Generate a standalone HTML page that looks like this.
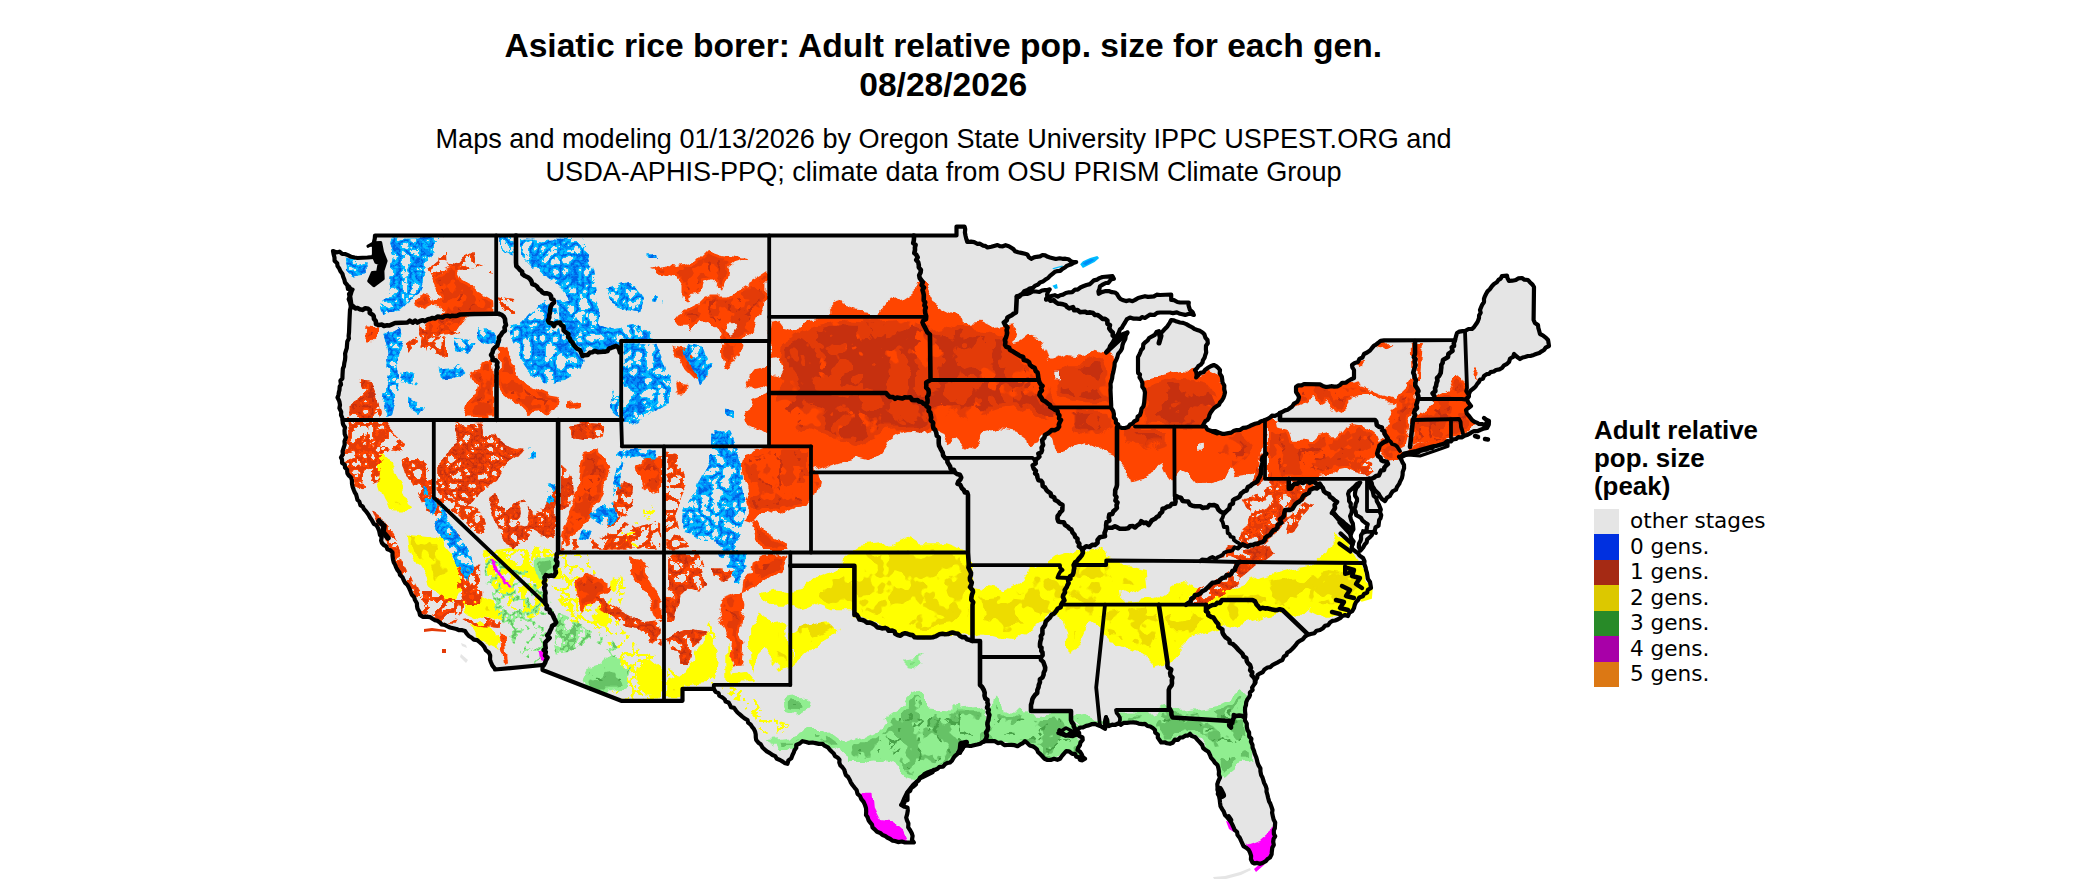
<!DOCTYPE html><html><head><meta charset="utf-8"><title>Asiatic rice borer</title><style>
html,body{margin:0;padding:0;background:#fff}body{width:2100px;height:892px;overflow:hidden;position:relative;font-family:"Liberation Sans",sans-serif;color:#000}
.t{position:absolute;white-space:nowrap;text-align:center}
#title{left:0;width:1886.5px;top:25.5px;font-weight:bold;font-size:33.59px;line-height:39.5px}
#sub{left:0;width:1887.1px;top:123.2px;font-size:27.09px;line-height:32.7px}
#lt{left:1594px;top:416px;font-weight:bold;font-size:25.9px;line-height:28px;text-align:left}
.sw{position:absolute;left:1594px;width:25px;height:25.6px}
.ll{position:absolute;left:1630px;font-family:"DejaVu Sans",sans-serif;font-size:21.6px;line-height:26px;white-space:nowrap}
svg{position:absolute;left:0;top:0}
</style></head><body>
<div class="t" id="title">Asiatic rice borer: Adult relative pop. size for each gen.<br>08/28/2026</div>
<div class="t" id="sub">Maps and modeling 01/13/2026 by Oregon State University IPPC USPEST.ORG and<br>USDA-APHIS-PPQ; climate data from OSU PRISM Climate Group</div>
<div class="t" id="lt">Adult relative<br>pop. size<br>(peak)</div>
<div class="sw" style="top:509px;height:25px;background:#e5e5e5"></div><div class="ll" style="top:508.45px">other stages</div>
<div class="sw" style="top:534px;height:26px;background:#0030e0"></div><div class="ll" style="top:533.87px">0 gens.</div>
<div class="sw" style="top:560px;height:25px;background:#a52a14"></div><div class="ll" style="top:559.29px">1 gens.</div>
<div class="sw" style="top:585px;height:26px;background:#dcc800"></div><div class="ll" style="top:584.71px">2 gens.</div>
<div class="sw" style="top:611px;height:25px;background:#288a28"></div><div class="ll" style="top:610.13px">3 gens.</div>
<div class="sw" style="top:636px;height:26px;background:#a800a8"></div><div class="ll" style="top:635.55px">4 gens.</div>
<div class="sw" style="top:662px;height:25px;background:#dc7814"></div><div class="ll" style="top:660.97px">5 gens.</div>
<svg width="2100" height="892" viewBox="0 0 2100 892">
<defs><filter id="fRB" x="0" y="0" width="2100" height="892" filterUnits="userSpaceOnUse" color-interpolation-filters="sRGB"><feTurbulence type="fractalNoise" baseFrequency="0.045" numOctaves="3" seed="2" result="t"/><feDisplacementMap in="SourceGraphic" in2="t" scale="16" xChannelSelector="R" yChannelSelector="G" result="a0"/><feMerge><feMergeNode in="a0"/></feMerge></filter><filter id="fRD" x="0" y="0" width="2100" height="892" filterUnits="userSpaceOnUse" color-interpolation-filters="sRGB"><feTurbulence type="fractalNoise" baseFrequency="0.04" numOctaves="3" seed="4" result="t"/><feDisplacementMap in="SourceGraphic" in2="t" scale="22" xChannelSelector="R" yChannelSelector="G" result="a0"/><feColorMatrix in="a0" type="matrix" values="0 0 0 0 0.890 0 0 0 0 0.231 0 0 0 0 0.031 0 0 0 1 0" result="c0"/><feTurbulence type="fractalNoise" baseFrequency="0.03" numOctaves="3" seed="21" result="n0"/><feColorMatrix in="n0" type="matrix" values="0 0 0 0 0 0 0 0 0 0 0 0 0 0 0 30 0 0 0 -10.50" result="m0"/><feComposite in="c0" in2="m0" operator="in" result="o0"/><feMorphology in="a0" operator="erode" radius="3" result="e1"/><feColorMatrix in="e1" type="matrix" values="0 0 0 0 0.776 0 0 0 0 0.188 0 0 0 0 0.059 0 0 0 1 0" result="c1"/><feTurbulence type="turbulence" baseFrequency="0.035" numOctaves="3" seed="22" result="n1"/><feColorMatrix in="n1" type="matrix" values="0 0 0 0 0 0 0 0 0 0 0 0 0 0 0 -30 0 0 0 9.30" result="m1"/><feComposite in="c1" in2="m1" operator="in" result="o1"/><feMerge><feMergeNode in="o0"/><feMergeNode in="o1"/></feMerge></filter><filter id="fR" x="0" y="0" width="2100" height="892" filterUnits="userSpaceOnUse" color-interpolation-filters="sRGB"><feTurbulence type="fractalNoise" baseFrequency="0.07" numOctaves="3" seed="6" result="t"/><feDisplacementMap in="SourceGraphic" in2="t" scale="12" xChannelSelector="R" yChannelSelector="G" result="a0"/><feMorphology in="a0" operator="erode" radius="1.5" result="e0"/><feColorMatrix in="e0" type="matrix" values="0 0 0 0 0.890 0 0 0 0 0.231 0 0 0 0 0.031 0 0 0 1 0" result="c0"/><feTurbulence type="fractalNoise" baseFrequency="0.06" numOctaves="3" seed="31" result="n0"/><feColorMatrix in="n0" type="matrix" values="0 0 0 0 0 0 0 0 0 0 0 0 0 0 0 30 0 0 0 -14.10" result="m0"/><feComposite in="c0" in2="m0" operator="in" result="o0"/><feMorphology in="a0" operator="erode" radius="4" result="e1"/><feColorMatrix in="e1" type="matrix" values="0 0 0 0 0.776 0 0 0 0 0.188 0 0 0 0 0.059 0 0 0 1 0" result="c1"/><feTurbulence type="turbulence" baseFrequency="0.05" numOctaves="3" seed="32" result="n1"/><feColorMatrix in="n1" type="matrix" values="0 0 0 0 0 0 0 0 0 0 0 0 0 0 0 -30 0 0 0 3.90" result="m1"/><feComposite in="c1" in2="m1" operator="in" result="o1"/><feMerge><feMergeNode in="a0"/><feMergeNode in="o0"/><feMergeNode in="o1"/></feMerge></filter><filter id="fY" x="0" y="0" width="2100" height="892" filterUnits="userSpaceOnUse" color-interpolation-filters="sRGB"><feTurbulence type="fractalNoise" baseFrequency="0.05" numOctaves="3" seed="8" result="t"/><feDisplacementMap in="SourceGraphic" in2="t" scale="16" xChannelSelector="R" yChannelSelector="G" result="a0"/><feMorphology in="a0" operator="erode" radius="6" result="e0"/><feColorMatrix in="e0" type="matrix" values="0 0 0 0 0.929 0 0 0 0 0.863 0 0 0 0 0.000 0 0 0 1 0" result="c0"/><feTurbulence type="fractalNoise" baseFrequency="0.04" numOctaves="3" seed="41" result="n0"/><feColorMatrix in="n0" type="matrix" values="0 0 0 0 0 0 0 0 0 0 0 0 0 0 0 30 0 0 0 -18.60" result="m0"/><feComposite in="c0" in2="m0" operator="in" result="o0"/><feMerge><feMergeNode in="a0"/><feMergeNode in="o0"/></feMerge></filter><filter id="fYD" x="0" y="0" width="2100" height="892" filterUnits="userSpaceOnUse" color-interpolation-filters="sRGB"><feTurbulence type="fractalNoise" baseFrequency="0.05" numOctaves="3" seed="18" result="t"/><feDisplacementMap in="SourceGraphic" in2="t" scale="16" xChannelSelector="R" yChannelSelector="G" result="a0"/><feColorMatrix in="a0" type="matrix" values="0 0 0 0 0.929 0 0 0 0 0.863 0 0 0 0 0.000 0 0 0 1 0" result="c0"/><feTurbulence type="fractalNoise" baseFrequency="0.045" numOctaves="3" seed="42" result="n0"/><feColorMatrix in="n0" type="matrix" values="0 0 0 0 0 0 0 0 0 0 0 0 0 0 0 30 0 0 0 -14.70" result="m0"/><feComposite in="c0" in2="m0" operator="in" result="o0"/><feMerge><feMergeNode in="o0"/></feMerge></filter><filter id="fG" x="0" y="0" width="2100" height="892" filterUnits="userSpaceOnUse" color-interpolation-filters="sRGB"><feTurbulence type="fractalNoise" baseFrequency="0.06" numOctaves="3" seed="9" result="t"/><feDisplacementMap in="SourceGraphic" in2="t" scale="16" xChannelSelector="R" yChannelSelector="G" result="a0"/><feMorphology in="a0" operator="erode" radius="3" result="e0"/><feColorMatrix in="e0" type="matrix" values="0 0 0 0 0.400 0 0 0 0 0.761 0 0 0 0 0.400 0 0 0 1 0" result="c0"/><feTurbulence type="fractalNoise" baseFrequency="0.05" numOctaves="3" seed="51" result="n0"/><feColorMatrix in="n0" type="matrix" values="0 0 0 0 0 0 0 0 0 0 0 0 0 0 0 30 0 0 0 -15.00" result="m0"/><feComposite in="c0" in2="m0" operator="in" result="o0"/><feMorphology in="a0" operator="erode" radius="6" result="e1"/><feColorMatrix in="e1" type="matrix" values="0 0 0 0 0.282 0 0 0 0 0.635 0 0 0 0 0.282 0 0 0 1 0" result="c1"/><feTurbulence type="turbulence" baseFrequency="0.05" numOctaves="3" seed="52" result="n1"/><feColorMatrix in="n1" type="matrix" values="0 0 0 0 0 0 0 0 0 0 0 0 0 0 0 -30 0 0 0 3.90" result="m1"/><feComposite in="c1" in2="m1" operator="in" result="o1"/><feMerge><feMergeNode in="a0"/><feMergeNode in="o0"/><feMergeNode in="o1"/></feMerge></filter><filter id="fH" x="0" y="0" width="2100" height="892" filterUnits="userSpaceOnUse" color-interpolation-filters="sRGB"><feTurbulence type="fractalNoise" baseFrequency="0.06" numOctaves="3" seed="10" result="t"/><feDisplacementMap in="SourceGraphic" in2="t" scale="10" xChannelSelector="R" yChannelSelector="G" result="a0"/><feMerge><feMergeNode in="a0"/></feMerge></filter><filter id="fM" x="0" y="0" width="2100" height="892" filterUnits="userSpaceOnUse" color-interpolation-filters="sRGB"><feTurbulence type="fractalNoise" baseFrequency="0.08" numOctaves="3" seed="11" result="t"/><feDisplacementMap in="SourceGraphic" in2="t" scale="6" xChannelSelector="R" yChannelSelector="G" result="a0"/><feMerge><feMergeNode in="a0"/></feMerge></filter><filter id="fRs" x="0" y="0" width="2100" height="892" filterUnits="userSpaceOnUse" color-interpolation-filters="sRGB"><feTurbulence type="fractalNoise" baseFrequency="0.05" numOctaves="2" seed="3" result="t"/><feDisplacementMap in="SourceGraphic" in2="t" scale="10" xChannelSelector="R" yChannelSelector="G" result="a0"/><feTurbulence type="turbulence" baseFrequency="0.08" numOctaves="3" seed="5" result="n"/><feColorMatrix in="n" type="matrix" values="0 0 0 0 0 0 0 0 0 0 0 0 0 0 0 -40 0 0 0 13.20" result="m0"/><feComposite in="a0" in2="m0" operator="in" result="o0"/><feColorMatrix in="n" type="matrix" values="0 0 0 0 0 0 0 0 0 0 0 0 0 0 0 -40 0 0 0 8.80" result="m1"/><feColorMatrix in="a0" type="matrix" values="0 0 0 0 0.890 0 0 0 0 0.231 0 0 0 0 0.031 0 0 0 1 0" result="r1"/><feComposite in="r1" in2="m1" operator="in" result="o1"/><feMerge><feMergeNode in="o0"/><feMergeNode in="o1"/></feMerge></filter><filter id="fRm" x="0" y="0" width="2100" height="892" filterUnits="userSpaceOnUse" color-interpolation-filters="sRGB"><feTurbulence type="fractalNoise" baseFrequency="0.05" numOctaves="2" seed="3" result="t"/><feDisplacementMap in="SourceGraphic" in2="t" scale="10" xChannelSelector="R" yChannelSelector="G" result="a0"/><feTurbulence type="turbulence" baseFrequency="0.075" numOctaves="3" seed="25" result="n"/><feColorMatrix in="n" type="matrix" values="0 0 0 0 0 0 0 0 0 0 0 0 0 0 0 -40 0 0 0 17.60" result="m0"/><feComposite in="a0" in2="m0" operator="in" result="o0"/><feColorMatrix in="n" type="matrix" values="0 0 0 0 0 0 0 0 0 0 0 0 0 0 0 -40 0 0 0 12.40" result="m1"/><feColorMatrix in="a0" type="matrix" values="0 0 0 0 0.890 0 0 0 0 0.231 0 0 0 0 0.031 0 0 0 1 0" result="r1"/><feComposite in="r1" in2="m1" operator="in" result="o1"/><feColorMatrix in="n" type="matrix" values="0 0 0 0 0 0 0 0 0 0 0 0 0 0 0 -40 0 0 0 5.60" result="m2"/><feColorMatrix in="a0" type="matrix" values="0 0 0 0 0.776 0 0 0 0 0.188 0 0 0 0 0.059 0 0 0 1 0" result="r2"/><feComposite in="r2" in2="m2" operator="in" result="o2"/><feMerge><feMergeNode in="o0"/><feMergeNode in="o1"/><feMergeNode in="o2"/></feMerge></filter><filter id="fRd" x="0" y="0" width="2100" height="892" filterUnits="userSpaceOnUse" color-interpolation-filters="sRGB"><feTurbulence type="fractalNoise" baseFrequency="0.05" numOctaves="2" seed="3" result="t"/><feDisplacementMap in="SourceGraphic" in2="t" scale="14" xChannelSelector="R" yChannelSelector="G" result="a0"/><feTurbulence type="turbulence" baseFrequency="0.11" numOctaves="3" seed="35" result="n"/><feColorMatrix in="n" type="matrix" values="0 0 0 0 0 0 0 0 0 0 0 0 0 0 0 -40 0 0 0 18.80" result="m0"/><feComposite in="a0" in2="m0" operator="in" result="o0"/><feColorMatrix in="n" type="matrix" values="0 0 0 0 0 0 0 0 0 0 0 0 0 0 0 -40 0 0 0 13.20" result="m1"/><feColorMatrix in="a0" type="matrix" values="0 0 0 0 0.890 0 0 0 0 0.231 0 0 0 0 0.031 0 0 0 1 0" result="r1"/><feComposite in="r1" in2="m1" operator="in" result="o1"/><feColorMatrix in="n" type="matrix" values="0 0 0 0 0 0 0 0 0 0 0 0 0 0 0 -40 0 0 0 6.00" result="m2"/><feColorMatrix in="a0" type="matrix" values="0 0 0 0 0.776 0 0 0 0 0.188 0 0 0 0 0.059 0 0 0 1 0" result="r2"/><feComposite in="r2" in2="m2" operator="in" result="o2"/><feMerge><feMergeNode in="o0"/><feMergeNode in="o1"/><feMergeNode in="o2"/></feMerge></filter><filter id="fB" x="0" y="0" width="2100" height="892" filterUnits="userSpaceOnUse" color-interpolation-filters="sRGB"><feTurbulence type="fractalNoise" baseFrequency="0.05" numOctaves="2" seed="3" result="t"/><feDisplacementMap in="SourceGraphic" in2="t" scale="10" xChannelSelector="R" yChannelSelector="G" result="a0"/><feTurbulence type="turbulence" baseFrequency="0.09" numOctaves="3" seed="12" result="n"/><feColorMatrix in="n" type="matrix" values="0 0 0 0 0 0 0 0 0 0 0 0 0 0 0 -40 0 0 0 16.40" result="m0"/><feComposite in="a0" in2="m0" operator="in" result="o0"/><feColorMatrix in="n" type="matrix" values="0 0 0 0 0 0 0 0 0 0 0 0 0 0 0 -40 0 0 0 10.80" result="m1"/><feColorMatrix in="a0" type="matrix" values="0 0 0 0 0.000 0 0 0 0 0.549 0 0 0 0 0.973 0 0 0 1 0" result="r1"/><feComposite in="r1" in2="m1" operator="in" result="o1"/><feColorMatrix in="n" type="matrix" values="0 0 0 0 0 0 0 0 0 0 0 0 0 0 0 -40 0 0 0 6.00" result="m2"/><feColorMatrix in="a0" type="matrix" values="0 0 0 0 0.000 0 0 0 0 0.392 0 0 0 0 0.902 0 0 0 1 0" result="r2"/><feComposite in="r2" in2="m2" operator="in" result="o2"/><feMerge><feMergeNode in="o0"/><feMergeNode in="o1"/><feMergeNode in="o2"/></feMerge></filter><filter id="fYs" x="0" y="0" width="2100" height="892" filterUnits="userSpaceOnUse" color-interpolation-filters="sRGB"><feTurbulence type="fractalNoise" baseFrequency="0.05" numOctaves="2" seed="3" result="t"/><feDisplacementMap in="SourceGraphic" in2="t" scale="10" xChannelSelector="R" yChannelSelector="G" result="a0"/><feTurbulence type="turbulence" baseFrequency="0.09" numOctaves="3" seed="13" result="n"/><feColorMatrix in="n" type="matrix" values="0 0 0 0 0 0 0 0 0 0 0 0 0 0 0 -40 0 0 0 8.80" result="m0"/><feComposite in="a0" in2="m0" operator="in" result="o0"/><feMerge><feMergeNode in="o0"/></feMerge></filter><filter id="fG2s" x="0" y="0" width="2100" height="892" filterUnits="userSpaceOnUse" color-interpolation-filters="sRGB"><feTurbulence type="fractalNoise" baseFrequency="0.05" numOctaves="2" seed="3" result="t"/><feDisplacementMap in="SourceGraphic" in2="t" scale="10" xChannelSelector="R" yChannelSelector="G" result="a0"/><feTurbulence type="turbulence" baseFrequency="0.08" numOctaves="3" seed="15" result="n"/><feColorMatrix in="n" type="matrix" values="0 0 0 0 0 0 0 0 0 0 0 0 0 0 0 -40 0 0 0 16.00" result="m0"/><feComposite in="a0" in2="m0" operator="in" result="o0"/><feColorMatrix in="n" type="matrix" values="0 0 0 0 0 0 0 0 0 0 0 0 0 0 0 -40 0 0 0 8.80" result="m1"/><feColorMatrix in="a0" type="matrix" values="0 0 0 0 0.400 0 0 0 0 0.761 0 0 0 0 0.400 0 0 0 1 0" result="r1"/><feComposite in="r1" in2="m1" operator="in" result="o1"/><feMerge><feMergeNode in="o0"/><feMergeNode in="o1"/></feMerge></filter><filter id="fY2s" x="0" y="0" width="2100" height="892" filterUnits="userSpaceOnUse" color-interpolation-filters="sRGB"><feTurbulence type="fractalNoise" baseFrequency="0.05" numOctaves="2" seed="3" result="t"/><feDisplacementMap in="SourceGraphic" in2="t" scale="10" xChannelSelector="R" yChannelSelector="G" result="a0"/><feTurbulence type="turbulence" baseFrequency="0.08" numOctaves="3" seed="16" result="n"/><feColorMatrix in="n" type="matrix" values="0 0 0 0 0 0 0 0 0 0 0 0 0 0 0 -40 0 0 0 14.40" result="m0"/><feComposite in="a0" in2="m0" operator="in" result="o0"/><feMerge><feMergeNode in="o0"/></feMerge></filter><filter id="fGs" x="0" y="0" width="2100" height="892" filterUnits="userSpaceOnUse" color-interpolation-filters="sRGB"><feTurbulence type="fractalNoise" baseFrequency="0.05" numOctaves="2" seed="3" result="t"/><feDisplacementMap in="SourceGraphic" in2="t" scale="10" xChannelSelector="R" yChannelSelector="G" result="a0"/><feTurbulence type="turbulence" baseFrequency="0.07" numOctaves="3" seed="14" result="n"/><feColorMatrix in="n" type="matrix" values="0 0 0 0 0 0 0 0 0 0 0 0 0 0 0 -40 0 0 0 8.80" result="m0"/><feComposite in="a0" in2="m0" operator="in" result="o0"/><feColorMatrix in="n" type="matrix" values="0 0 0 0 0 0 0 0 0 0 0 0 0 0 0 -40 0 0 0 4.80" result="m1"/><feColorMatrix in="a0" type="matrix" values="0 0 0 0 0.400 0 0 0 0 0.761 0 0 0 0 0.400 0 0 0 1 0" result="r1"/><feComposite in="r1" in2="m1" operator="in" result="o1"/><feMerge><feMergeNode in="o0"/><feMergeNode in="o1"/></feMerge></filter></defs>
<clipPath id="land"><polygon points="375.0,235.5 956.5,235.5 956.5,226.6 964.6,226.6 965.2,229.3 964.9,232.5 965.6,236.0 966.3,238.9 967.3,242.0 970.9,241.7 974.2,242.2 977.5,243.8 979.9,243.7 982.9,245.6 985.0,245.8 987.5,247.5 991.3,246.8 994.1,246.0 997.5,245.0 999.8,246.2 1002.8,246.3 1005.6,245.2 1008.8,246.2 1011.3,247.8 1013.4,249.1 1015.0,251.2 1018.1,252.3 1021.2,252.9 1025.0,253.8 1027.4,254.5 1028.9,257.3 1031.2,258.8 1034.0,257.4 1036.7,256.8 1040.1,256.4 1042.5,255.0 1045.2,255.4 1047.8,256.8 1050.0,257.5 1052.9,258.2 1055.8,259.0 1059.6,258.3 1062.5,258.8 1065.4,258.7 1068.4,259.2 1070.7,261.2 1073.1,262.0 1076.2,262.0 1073.2,263.1 1070.6,264.6 1067.1,265.7 1065.0,267.5 1062.4,268.9 1060.2,270.9 1056.9,271.2 1054.9,271.8 1052.5,273.8 1050.0,275.8 1048.1,278.0 1045.7,279.3 1042.8,281.6 1040.0,282.5 1038.1,284.5 1034.8,285.9 1033.0,287.7 1029.6,288.6 1027.5,290.0 1024.2,291.3 1022.5,293.6 1019.3,295.3 1016.8,296.5 1019.3,296.8 1021.7,294.5 1024.6,293.9 1027.2,293.9 1030.0,293.0 1032.7,291.4 1036.0,291.5 1039.4,292.0 1042.0,290.5 1044.7,290.1 1046.7,290.2 1049.7,289.4 1048.0,291.9 1047.1,294.4 1047.3,296.8 1046.2,299.3 1049.0,296.7 1052.4,295.7 1054.8,295.2 1057.8,296.6 1060.2,295.2 1063.0,294.6 1065.8,293.0 1069.0,292.3 1072.2,292.1 1075.0,289.7 1077.7,289.6 1080.4,287.5 1083.2,286.3 1086.5,285.0 1090.0,284.1 1091.9,282.2 1093.9,280.4 1097.3,279.6 1099.5,278.1 1102.5,277.0 1112.5,276.2 1113.8,278.8 1111.0,279.5 1108.3,282.8 1105.8,283.0 1103.1,284.4 1100.0,286.2 1099.4,289.2 1098.4,291.3 1098.8,293.8 1101.6,292.1 1105.0,291.2 1108.7,291.0 1111.9,292.2 1115.0,292.5 1116.9,293.9 1118.7,297.0 1120.3,298.8 1122.5,300.0 1126.0,301.1 1129.3,300.3 1132.5,301.2 1135.1,299.9 1138.2,298.0 1141.9,297.0 1145.0,296.2 1148.0,296.9 1151.6,296.6 1153.9,296.4 1156.7,294.7 1160.0,295.0 1171.2,294.5 1171.2,300.0 1174.0,300.2 1177.4,302.0 1180.0,302.5 1188.8,302.5 1188.5,305.1 1189.3,307.8 1190.0,310.0 1192.6,312.1 1193.8,315.0 1190.8,313.9 1188.3,314.0 1185.2,314.9 1182.4,314.3 1180.0,313.8 1176.9,312.4 1172.9,313.1 1170.0,312.5 1160.0,312.5 1157.1,312.9 1154.3,315.0 1150.1,314.6 1147.5,316.2 1144.9,317.9 1142.0,317.1 1140.0,318.8 1136.6,318.6 1133.7,318.7 1130.0,317.5 1126.7,319.4 1125.0,322.5 1123.2,325.3 1121.8,327.9 1119.9,329.4 1118.8,332.5 1117.4,335.1 1115.0,337.5 1113.7,340.7 1112.1,343.3 1110.0,346.0 1109.2,348.9 1107.8,350.4 1106.2,352.5 1108.6,350.1 1110.2,347.7 1112.0,346.0 1114.0,343.7 1115.7,341.9 1117.7,339.4 1120.0,337.0 1122.2,334.5 1124.6,333.5 1127.5,332.5 1125.8,335.5 1125.3,338.9 1123.5,342.1 1122.5,345.0 1122.0,348.4 1120.6,351.0 1118.2,353.8 1117.3,357.2 1116.2,360.0 1114.7,362.7 1114.5,366.0 1113.9,369.2 1113.3,372.1 1112.5,375.0 1112.1,378.4 1111.3,381.3 1110.5,383.6 1110.7,387.4 1110.5,390.0 1111.2,405.0 1111.1,407.9 1113.2,411.0 1113.9,414.0 1113.8,417.5 1115.8,419.6 1115.9,422.9 1118.2,424.5 1118.8,427.0 1121.5,427.8 1125.0,428.0 1128.3,427.0 1130.1,424.5 1132.5,423.8 1134.2,421.4 1137.2,419.8 1137.6,416.8 1140.0,415.0 1141.0,412.0 1141.5,408.7 1143.5,406.2 1144.2,402.5 1145.0,392.5 1144.2,389.4 1142.3,386.7 1142.4,383.0 1141.2,380.0 1139.5,377.3 1140.0,374.4 1138.1,373.0 1138.0,370.0 1138.0,360.0 1138.0,357.0 1139.1,355.2 1140.4,352.1 1141.2,350.0 1143.0,348.0 1143.3,344.3 1145.0,342.5 1147.7,340.4 1149.1,338.0 1152.5,336.2 1154.8,334.9 1156.5,332.0 1158.8,331.2 1159.2,335.0 1160.0,338.0 1160.4,335.0 1161.3,332.7 1163.0,331.0 1165.1,328.7 1167.5,326.2 1169.7,322.8 1171.2,320.0 1173.9,320.3 1176.8,321.6 1180.0,322.5 1183.1,322.9 1186.3,324.1 1189.3,325.8 1192.5,327.5 1194.6,329.1 1197.2,329.9 1199.7,330.8 1202.5,332.5 1204.3,334.3 1205.5,337.8 1207.5,340.0 1207.8,343.2 1206.0,345.8 1205.9,349.2 1206.2,352.5 1205.2,355.3 1204.6,357.6 1202.9,360.3 1202.5,362.5 1200.6,364.8 1198.4,366.1 1197.1,368.2 1195.0,370.0 1196.2,372.0 1196.7,375.1 1196.2,377.5 1197.9,375.5 1200.3,372.9 1203.4,372.3 1205.0,370.0 1207.5,368.1 1210.6,366.3 1213.8,365.0 1216.2,366.1 1218.6,368.3 1220.0,370.0 1219.7,373.4 1221.8,376.6 1222.2,379.2 1222.5,382.5 1224.3,385.5 1224.2,389.2 1225.0,392.5 1224.3,395.3 1223.5,397.7 1222.0,400.3 1220.0,402.5 1219.1,404.7 1216.7,406.3 1214.2,408.0 1212.5,410.0 1210.7,412.4 1209.4,415.1 1209.0,417.4 1207.5,420.0 1205.3,421.2 1203.7,424.0 1202.5,426.2 1205.7,426.8 1207.3,429.5 1210.1,430.6 1212.5,431.2 1215.8,431.2 1219.1,432.6 1222.1,433.8 1225.0,433.8 1228.4,433.1 1231.3,432.6 1233.4,431.1 1236.7,430.1 1240.0,430.0 1243.0,427.9 1246.2,427.6 1249.3,426.4 1251.5,425.2 1255.0,423.8 1258.5,423.0 1261.0,421.2 1263.7,420.5 1267.0,419.3 1270.0,417.5 1271.9,415.7 1274.9,415.8 1278.1,414.4 1280.0,413.0 1282.4,411.8 1285.1,410.4 1287.8,409.7 1290.0,408.0 1292.2,406.5 1294.0,403.6 1297.0,402.0 1298.4,399.9 1299.0,397.0 1297.9,394.8 1296.0,392.0 1296.0,387.0 1298.1,385.3 1301.6,385.3 1304.0,384.0 1320.0,384.4 1322.7,385.9 1326.0,387.0 1328.8,386.6 1331.2,386.2 1334.2,386.6 1337.8,386.3 1340.0,385.0 1342.2,382.8 1346.0,382.7 1348.0,381.0 1350.7,379.5 1354.0,378.0 1354.0,370.0 1352.3,367.3 1352.0,365.0 1354.8,362.9 1358.0,362.0 1359.4,358.9 1362.5,357.5 1364.0,354.0 1367.1,352.5 1370.0,350.5 1372.0,348.0 1374.0,345.7 1375.6,344.9 1378.0,343.0 1380.6,340.8 1384.0,340.4 1455.0,340.0 1455.9,336.7 1457.0,333.0 1459.3,331.7 1462.6,331.2 1465.0,331.0 1468.5,329.0 1472.0,329.0 1474.1,326.9 1476.3,323.8 1477.8,321.4 1479.0,318.0 1479.1,315.4 1480.7,312.7 1480.0,310.0 1481.1,307.3 1482.1,304.9 1484.0,302.0 1484.0,298.8 1485.0,296.1 1486.0,294.0 1487.5,291.4 1489.8,289.3 1492.1,286.0 1494.0,284.0 1496.8,282.3 1498.5,279.9 1500.7,278.6 1502.0,276.0 1507.0,275.6 1507.4,278.0 1509.0,281.0 1512.3,280.7 1515.8,280.0 1518.2,278.4 1522.0,278.0 1524.4,279.7 1528.0,280.0 1529.9,282.2 1532.5,284.6 1534.0,287.0 1533.6,320.0 1534.9,322.9 1538.0,325.0 1538.3,327.9 1539.2,330.9 1540.0,334.0 1542.8,335.3 1546.0,337.8 1548.0,340.0 1548.5,342.7 1549.0,346.0 1545.6,347.7 1544.0,350.0 1541.7,351.3 1539.3,353.0 1536.0,354.0 1533.8,354.9 1531.0,355.8 1528.0,356.0 1524.9,357.0 1522.6,357.5 1520.0,359.0 1517.9,357.5 1516.0,356.0 1514.0,354.0 1513.2,356.9 1510.1,358.5 1509.0,362.0 1506.6,364.1 1504.1,365.3 1502.0,368.0 1499.4,369.4 1496.0,370.0 1493.8,371.5 1490.6,372.1 1489.0,374.0 1486.7,374.1 1484.0,376.0 1482.9,378.8 1480.1,379.5 1479.0,382.0 1477.5,383.5 1475.6,386.5 1474.0,388.0 1471.6,389.9 1470.1,391.2 1469.0,394.0 1468.9,396.5 1467.0,399.0 1468.0,402.0 1471.0,406.0 1468.3,408.1 1466.0,410.0 1466.8,413.6 1469.0,416.0 1472.0,420.0 1474.4,421.7 1476.8,422.6 1479.0,424.0 1482.6,424.2 1485.0,426.0 1486.3,422.9 1488.0,421.0 1484.0,418.0 1486.2,419.6 1489.0,421.0 1488.8,424.5 1487.0,428.0 1483.2,428.8 1480.0,430.0 1477.6,431.2 1474.0,431.0 1471.6,432.3 1469.7,433.7 1467.0,435.0 1464.6,435.6 1461.7,437.4 1458.3,437.2 1456.0,439.0 1453.0,439.3 1450.9,441.4 1447.2,441.2 1445.0,443.0 1442.9,444.1 1439.5,444.9 1437.3,445.8 1433.8,446.4 1432.3,447.9 1429.0,448.4 1426.4,449.7 1423.7,450.0 1420.3,451.0 1418.0,452.5 1415.0,453.1 1411.5,452.8 1408.4,453.7 1405.0,455.0 1402.5,456.6 1400.0,457.0 1399.0,456.7 1401.3,459.6 1402.2,461.8 1404.0,464.8 1404.1,468.2 1402.7,471.9 1402.6,474.9 1401.9,478.1 1400.1,481.6 1399.2,483.9 1397.0,487.0 1396.0,489.7 1392.6,491.3 1391.0,493.9 1389.9,496.0 1386.9,497.8 1384.9,501.1 1381.6,498.7 1379.8,496.0 1378.8,494.0 1376.8,491.9 1374.8,490.0 1373.6,487.9 1372.3,486.0 1371.7,482.9 1370.1,481.1 1369.1,478.5 1368.7,481.5 1370.3,484.9 1370.3,487.6 1372.5,490.5 1373.1,493.0 1373.7,495.9 1376.4,498.0 1376.8,501.1 1378.7,504.4 1379.8,507.1 1380.8,509.6 1379.9,512.2 1381.2,515.2 1380.5,518.2 1379.2,520.0 1378.8,523.3 1378.5,525.7 1375.5,527.4 1374.8,530.4 1372.5,532.8 1371.8,535.1 1369.7,537.4 1367.2,539.3 1366.6,542.6 1364.7,544.5 1363.1,547.5 1360.6,550.5 1358.8,547.0 1359.0,543.5 1360.5,540.9 1361.1,538.8 1361.0,535.4 1362.5,533.0 1365.8,531.6 1366.7,529.3 1366.9,527.0 1367.7,524.3 1364.9,522.4 1362.3,520.3 1361.1,518.1 1358.4,516.3 1356.2,515.2 1355.7,511.7 1354.2,509.2 1355.3,506.7 1355.7,503.8 1357.0,501.1 1357.0,498.7 1355.0,495.6 1355.0,493.0 1355.4,490.9 1356.3,487.9 1358.2,486.0 1360.2,482.5 1357.0,483.9 1354.3,487.0 1351.8,489.0 1349.0,491.4 1348.1,494.0 1349.0,497.1 1349.1,501.1 1350.8,503.5 1350.6,506.6 1352.0,509.2 1351.6,512.8 1350.1,516.2 1350.8,518.8 1351.6,521.4 1352.8,523.3 1353.4,529.3 1351.8,531.9 1350.5,535.4 1351.3,538.6 1353.6,541.5 1352.5,544.3 1351.6,547.5 1353.1,549.6 1355.6,551.5 1357.8,553.0 1359.6,555.6 1363.0,558.0 1364.5,561.2 1364.3,563.9 1365.6,567.4 1366.0,570.0 1366.9,572.7 1367.5,576.3 1367.9,578.9 1370.0,582.0 1370.6,585.3 1371.0,588.0 1367.9,589.8 1367.1,592.6 1364.0,594.0 1362.8,596.3 1359.3,597.4 1358.0,600.0 1356.0,602.2 1354.7,605.0 1354.0,608.0 1352.2,611.2 1349.5,612.5 1348.0,616.0 1345.0,615.0 1342.3,616.1 1340.4,617.9 1338.1,619.3 1335.1,620.5 1332.6,620.8 1330.0,622.5 1328.2,625.1 1325.0,625.8 1323.0,628.2 1320.0,630.0 1316.6,630.7 1314.4,633.2 1310.7,634.0 1307.5,635.0 1305.2,636.4 1302.7,639.4 1300.3,640.6 1297.5,642.5 1295.6,645.2 1294.0,647.0 1292.1,649.0 1290.0,651.0 1287.1,652.8 1286.4,655.0 1283.9,656.5 1282.4,660.0 1280.0,661.0 1277.3,662.6 1274.7,663.9 1272.8,664.8 1270.4,667.1 1267.5,667.5 1264.5,669.4 1262.9,672.0 1260.2,673.3 1257.5,675.0 1257.3,677.5 1255.4,680.4 1255.4,682.8 1253.8,685.0 1252.1,687.7 1252.6,689.9 1249.9,692.6 1250.0,695.0 1249.2,697.1 1247.3,699.6 1246.2,702.3 1246.0,705.0 1245.1,707.7 1245.0,710.9 1245.4,714.7 1245.0,717.5 1244.9,720.4 1246.8,723.5 1246.8,726.8 1247.5,730.0 1249.1,732.5 1249.2,736.5 1251.4,738.8 1250.9,741.7 1252.5,745.0 1252.6,747.7 1254.0,750.9 1254.7,753.6 1256.0,756.7 1256.9,759.7 1257.5,762.5 1258.6,765.4 1260.4,768.3 1260.4,771.2 1261.1,774.9 1262.5,777.5 1263.3,780.1 1264.1,782.9 1265.7,786.0 1266.6,788.9 1266.5,791.6 1267.5,795.0 1268.1,797.7 1269.1,801.4 1270.3,803.6 1271.5,806.9 1272.5,810.0 1272.1,812.8 1272.9,816.6 1273.6,819.4 1275.2,822.4 1275.0,825.0 1274.8,828.3 1273.8,830.3 1273.9,834.0 1275.2,836.3 1273.6,838.9 1273.2,841.9 1273.8,845.0 1272.3,847.6 1271.8,851.7 1271.6,854.3 1270.0,857.5 1267.6,859.0 1265.8,861.2 1262.5,863.0 1260.0,863.8 1257.2,862.9 1254.6,863.5 1252.5,862.5 1250.9,859.3 1251.1,855.9 1250.0,852.5 1248.7,849.8 1246.1,847.7 1243.5,846.1 1242.5,843.8 1241.1,840.8 1239.8,837.8 1237.5,835.0 1237.1,832.0 1234.6,829.9 1233.8,827.8 1232.5,825.0 1231.3,822.6 1229.4,819.8 1226.8,816.9 1225.0,815.0 1223.8,811.7 1222.3,809.4 1220.5,806.3 1220.0,802.5 1219.7,799.5 1219.0,796.1 1217.8,793.9 1218.4,790.9 1217.5,787.5 1217.3,784.1 1218.4,780.8 1220.0,777.5 1218.8,774.4 1219.0,771.5 1218.4,768.1 1217.5,765.0 1214.8,762.6 1213.6,760.6 1211.1,757.9 1210.0,755.0 1208.4,751.8 1206.0,750.3 1203.1,748.0 1202.2,745.0 1200.0,742.5 1197.7,740.1 1195.4,737.3 1191.9,736.1 1190.0,733.8 1187.8,735.6 1185.3,735.7 1182.5,737.5 1180.0,737.5 1178.0,739.9 1174.8,739.7 1172.7,742.8 1170.0,743.8 1166.9,743.3 1164.6,742.3 1161.2,742.5 1159.7,740.3 1157.8,737.6 1157.9,734.6 1155.2,732.6 1155.0,730.0 1152.8,728.0 1150.3,726.5 1147.5,726.0 1145.0,723.8 1142.4,724.1 1138.7,723.6 1135.7,722.6 1133.3,722.3 1130.0,722.5 1127.0,722.9 1123.9,722.9 1120.9,724.5 1118.1,723.5 1115.0,725.0 1112.2,724.7 1108.8,726.0 1107.5,723.6 1107.2,719.8 1106.0,717.5 1105.3,720.1 1104.8,722.9 1105.7,726.4 1105.0,728.8 1102.4,727.2 1099.7,725.7 1097.2,724.9 1095.0,723.8 1091.6,724.2 1088.8,725.4 1086.2,725.8 1083.0,727.3 1080.0,727.5 1077.5,730.0 1074.2,732.4 1071.0,733.0 1073.7,733.3 1077.4,734.7 1079.4,736.0 1082.5,737.5 1082.7,739.9 1080.4,742.5 1080.0,745.0 1078.3,747.5 1077.5,750.0 1080.1,751.7 1081.7,754.4 1082.9,757.3 1085.0,758.8 1082.4,760.3 1080.0,760.0 1078.7,757.1 1076.2,756.6 1075.0,753.8 1072.3,753.8 1069.1,751.3 1066.2,751.2 1063.8,753.8 1062.0,755.9 1060.0,758.8 1057.4,759.8 1054.0,758.8 1050.7,760.0 1047.5,760.0 1044.6,758.8 1042.1,756.0 1040.0,753.8 1038.1,752.2 1036.9,749.3 1034.8,747.5 1032.5,746.2 1029.6,745.4 1027.2,742.9 1025.0,741.2 1022.5,743.3 1020.2,744.4 1017.5,746.2 1014.7,745.2 1011.2,744.8 1007.5,745.0 1004.4,745.1 1000.9,742.5 997.8,743.1 995.0,741.2 985.0,741.2 982.2,742.3 980.2,743.7 977.3,744.5 975.0,745.0 971.8,745.8 969.7,746.0 966.5,745.5 963.8,746.2 962.2,749.4 960.0,752.0 957.5,753.8 955.1,755.9 953.6,757.8 952.1,760.4 950.0,762.5 947.5,762.9 945.1,764.1 943.0,766.7 939.6,766.8 937.5,768.8 934.7,770.0 932.7,771.1 929.7,771.6 927.5,772.5 924.6,773.8 922.8,776.0 920.0,777.5 918.8,780.4 916.5,781.9 915.9,784.4 913.8,786.2 911.2,788.0 910.1,790.9 907.5,792.5 907.5,800.0 905.1,800.9 903.9,803.7 901.2,805.0 904.5,806.8 907.5,807.5 907.8,810.6 907.2,814.1 906.2,817.5 907.0,820.3 908.4,823.4 908.2,827.4 910.0,830.0 911.8,833.3 912.6,835.9 912.0,839.9 913.8,842.5 905.0,842.5 901.8,841.5 898.1,842.1 895.0,841.0 892.4,840.6 890.3,839.0 887.2,837.5 885.2,835.9 882.5,835.0 880.2,832.9 877.0,831.8 874.7,829.4 872.5,827.5 872.0,824.7 869.9,822.2 868.6,820.3 867.5,817.0 866.0,815.0 866.2,811.4 866.0,808.1 865.0,805.0 863.6,801.9 861.3,799.1 860.0,796.0 857.5,793.8 856.6,790.0 854.7,787.8 852.5,785.0 850.9,782.6 849.8,780.0 848.1,777.0 845.9,775.2 845.0,772.5 844.3,769.9 842.3,767.1 840.4,765.4 839.3,762.6 839.5,759.6 837.5,757.5 835.0,756.1 833.7,753.5 831.8,751.8 830.0,750.0 827.9,747.4 824.5,745.7 822.5,743.8 818.9,743.9 815.5,743.1 812.5,742.5 808.6,742.8 806.2,742.0 802.5,741.2 799.7,743.5 796.2,745.0 796.3,747.8 794.5,750.2 793.8,752.4 792.5,755.0 791.2,758.4 788.4,760.4 787.5,763.8 784.5,762.9 782.7,761.6 780.0,760.0 776.9,758.8 775.2,756.1 772.5,755.0 769.9,753.1 766.8,751.4 764.7,749.5 762.5,747.5 760.7,744.3 758.4,742.7 756.2,740.0 755.8,737.5 755.7,734.4 755.1,731.6 753.8,728.8 752.1,726.9 750.7,724.7 748.1,722.6 747.5,720.0 744.9,718.6 742.3,716.6 739.8,714.4 737.5,712.5 735.9,710.5 734.1,707.9 731.0,707.3 730.0,705.0 728.5,702.4 725.5,701.5 724.9,699.5 722.5,697.5 719.3,695.7 718.5,693.1 715.6,691.8 713.8,688.8 682.5,688.8 682.5,700.8 662.5,700.8 621.2,700.8 542.5,670.0 542.5,665.0 495.0,669.5 495.0,668.8 492.4,665.7 491.0,662.5 490.0,659.6 490.2,655.4 488.8,652.5 485.8,650.1 484.4,647.1 482.2,644.5 480.0,642.5 477.2,640.2 473.9,639.7 471.4,637.5 468.8,636.0 466.5,633.3 465.0,631.0 462.3,630.2 459.2,630.2 456.4,629.0 453.3,628.3 450.0,627.5 447.5,626.3 444.7,624.8 441.8,624.5 439.9,622.5 437.3,620.8 435.0,620.3 432.5,618.8 430.0,617.1 426.2,616.6 422.7,616.8 420.0,615.0 419.2,611.5 417.5,608.7 417.0,606.0 416.9,603.2 415.0,600.0 414.1,597.2 412.0,594.8 411.0,592.6 410.0,590.0 408.7,587.2 407.5,585.0 405.2,582.9 403.6,580.0 402.5,577.3 400.0,575.0 399.4,572.3 397.6,570.2 396.0,567.1 395.1,564.6 393.8,562.5 393.0,559.4 392.5,555.8 392.5,552.5 390.3,550.2 387.4,549.3 386.4,546.3 383.8,545.0 382.0,543.0 381.1,540.6 381.7,537.1 380.0,535.0 379.2,531.1 378.0,528.0 376.4,525.2 373.8,523.8 372.0,520.4 370.0,517.5 368.7,515.0 367.3,513.1 365.6,510.8 363.8,508.8 362.8,506.6 360.4,505.1 359.3,501.5 357.5,500.0 356.9,497.5 356.1,494.5 354.9,492.7 353.8,490.0 352.7,487.0 352.0,483.9 351.9,480.1 351.0,477.5 348.7,475.4 347.4,473.3 347.0,469.6 345.0,467.5 344.8,464.7 342.1,463.0 342.0,459.5 341.0,457.5 342.8,454.4 342.6,451.2 343.8,447.5 344.7,444.5 344.5,441.2 346.0,437.5 344.7,434.1 344.5,430.4 345.0,427.5 343.3,424.9 342.8,423.2 342.5,420.0 342.2,417.6 341.0,415.0 341.2,411.9 339.4,408.2 340.0,405.0 339.5,402.0 338.9,400.2 337.5,397.5 338.5,394.9 338.9,392.1 339.5,390.0 339.7,386.4 341.0,384.6 340.4,380.7 342.4,378.5 342.5,375.0 342.7,371.7 342.9,368.5 343.9,366.4 344.3,362.9 345.0,360.0 345.3,356.8 345.1,353.6 345.9,350.8 346.8,348.1 347.0,345.0 347.3,341.6 348.9,338.6 348.6,335.9 349.0,332.5 349.5,320.0 350.0,310.0 351.0,307.0 350.0,302.5 348.7,299.3 349.7,296.5 349.0,294.0 350.5,291.5 352.5,289.5 348.0,289.0 347.2,285.0 345.0,282.5 344.4,279.8 343.1,276.5 342.5,274.0 340.5,271.3 339.1,268.2 337.5,266.0 337.2,263.2 334.6,260.9 334.5,257.5 333.6,254.2 333.0,251.0 336.2,252.5 339.5,251.7 342.2,253.9 345.0,254.0 347.9,255.1 351.3,256.8 354.7,257.5 357.5,258.0 367.5,257.5 374.0,257.0 374.0,245.0 374.0,242.2 374.8,238.4"/><polygon points="1400.0,457.0 1408.0,455.0 1420.0,456.0 1436.0,450.5 1448.0,446.3 1448.0,443.5 1432.0,446.0 1416.0,450.5 1404.0,453.0"/></clipPath>
<polygon points="375.0,235.5 956.5,235.5 956.5,226.6 964.6,226.6 965.2,229.3 964.9,232.5 965.6,236.0 966.3,238.9 967.3,242.0 970.9,241.7 974.2,242.2 977.5,243.8 979.9,243.7 982.9,245.6 985.0,245.8 987.5,247.5 991.3,246.8 994.1,246.0 997.5,245.0 999.8,246.2 1002.8,246.3 1005.6,245.2 1008.8,246.2 1011.3,247.8 1013.4,249.1 1015.0,251.2 1018.1,252.3 1021.2,252.9 1025.0,253.8 1027.4,254.5 1028.9,257.3 1031.2,258.8 1034.0,257.4 1036.7,256.8 1040.1,256.4 1042.5,255.0 1045.2,255.4 1047.8,256.8 1050.0,257.5 1052.9,258.2 1055.8,259.0 1059.6,258.3 1062.5,258.8 1065.4,258.7 1068.4,259.2 1070.7,261.2 1073.1,262.0 1076.2,262.0 1073.2,263.1 1070.6,264.6 1067.1,265.7 1065.0,267.5 1062.4,268.9 1060.2,270.9 1056.9,271.2 1054.9,271.8 1052.5,273.8 1050.0,275.8 1048.1,278.0 1045.7,279.3 1042.8,281.6 1040.0,282.5 1038.1,284.5 1034.8,285.9 1033.0,287.7 1029.6,288.6 1027.5,290.0 1024.2,291.3 1022.5,293.6 1019.3,295.3 1016.8,296.5 1019.3,296.8 1021.7,294.5 1024.6,293.9 1027.2,293.9 1030.0,293.0 1032.7,291.4 1036.0,291.5 1039.4,292.0 1042.0,290.5 1044.7,290.1 1046.7,290.2 1049.7,289.4 1048.0,291.9 1047.1,294.4 1047.3,296.8 1046.2,299.3 1049.0,296.7 1052.4,295.7 1054.8,295.2 1057.8,296.6 1060.2,295.2 1063.0,294.6 1065.8,293.0 1069.0,292.3 1072.2,292.1 1075.0,289.7 1077.7,289.6 1080.4,287.5 1083.2,286.3 1086.5,285.0 1090.0,284.1 1091.9,282.2 1093.9,280.4 1097.3,279.6 1099.5,278.1 1102.5,277.0 1112.5,276.2 1113.8,278.8 1111.0,279.5 1108.3,282.8 1105.8,283.0 1103.1,284.4 1100.0,286.2 1099.4,289.2 1098.4,291.3 1098.8,293.8 1101.6,292.1 1105.0,291.2 1108.7,291.0 1111.9,292.2 1115.0,292.5 1116.9,293.9 1118.7,297.0 1120.3,298.8 1122.5,300.0 1126.0,301.1 1129.3,300.3 1132.5,301.2 1135.1,299.9 1138.2,298.0 1141.9,297.0 1145.0,296.2 1148.0,296.9 1151.6,296.6 1153.9,296.4 1156.7,294.7 1160.0,295.0 1171.2,294.5 1171.2,300.0 1174.0,300.2 1177.4,302.0 1180.0,302.5 1188.8,302.5 1188.5,305.1 1189.3,307.8 1190.0,310.0 1192.6,312.1 1193.8,315.0 1190.8,313.9 1188.3,314.0 1185.2,314.9 1182.4,314.3 1180.0,313.8 1176.9,312.4 1172.9,313.1 1170.0,312.5 1160.0,312.5 1157.1,312.9 1154.3,315.0 1150.1,314.6 1147.5,316.2 1144.9,317.9 1142.0,317.1 1140.0,318.8 1136.6,318.6 1133.7,318.7 1130.0,317.5 1126.7,319.4 1125.0,322.5 1123.2,325.3 1121.8,327.9 1119.9,329.4 1118.8,332.5 1117.4,335.1 1115.0,337.5 1113.7,340.7 1112.1,343.3 1110.0,346.0 1109.2,348.9 1107.8,350.4 1106.2,352.5 1108.6,350.1 1110.2,347.7 1112.0,346.0 1114.0,343.7 1115.7,341.9 1117.7,339.4 1120.0,337.0 1122.2,334.5 1124.6,333.5 1127.5,332.5 1125.8,335.5 1125.3,338.9 1123.5,342.1 1122.5,345.0 1122.0,348.4 1120.6,351.0 1118.2,353.8 1117.3,357.2 1116.2,360.0 1114.7,362.7 1114.5,366.0 1113.9,369.2 1113.3,372.1 1112.5,375.0 1112.1,378.4 1111.3,381.3 1110.5,383.6 1110.7,387.4 1110.5,390.0 1111.2,405.0 1111.1,407.9 1113.2,411.0 1113.9,414.0 1113.8,417.5 1115.8,419.6 1115.9,422.9 1118.2,424.5 1118.8,427.0 1121.5,427.8 1125.0,428.0 1128.3,427.0 1130.1,424.5 1132.5,423.8 1134.2,421.4 1137.2,419.8 1137.6,416.8 1140.0,415.0 1141.0,412.0 1141.5,408.7 1143.5,406.2 1144.2,402.5 1145.0,392.5 1144.2,389.4 1142.3,386.7 1142.4,383.0 1141.2,380.0 1139.5,377.3 1140.0,374.4 1138.1,373.0 1138.0,370.0 1138.0,360.0 1138.0,357.0 1139.1,355.2 1140.4,352.1 1141.2,350.0 1143.0,348.0 1143.3,344.3 1145.0,342.5 1147.7,340.4 1149.1,338.0 1152.5,336.2 1154.8,334.9 1156.5,332.0 1158.8,331.2 1159.2,335.0 1160.0,338.0 1160.4,335.0 1161.3,332.7 1163.0,331.0 1165.1,328.7 1167.5,326.2 1169.7,322.8 1171.2,320.0 1173.9,320.3 1176.8,321.6 1180.0,322.5 1183.1,322.9 1186.3,324.1 1189.3,325.8 1192.5,327.5 1194.6,329.1 1197.2,329.9 1199.7,330.8 1202.5,332.5 1204.3,334.3 1205.5,337.8 1207.5,340.0 1207.8,343.2 1206.0,345.8 1205.9,349.2 1206.2,352.5 1205.2,355.3 1204.6,357.6 1202.9,360.3 1202.5,362.5 1200.6,364.8 1198.4,366.1 1197.1,368.2 1195.0,370.0 1196.2,372.0 1196.7,375.1 1196.2,377.5 1197.9,375.5 1200.3,372.9 1203.4,372.3 1205.0,370.0 1207.5,368.1 1210.6,366.3 1213.8,365.0 1216.2,366.1 1218.6,368.3 1220.0,370.0 1219.7,373.4 1221.8,376.6 1222.2,379.2 1222.5,382.5 1224.3,385.5 1224.2,389.2 1225.0,392.5 1224.3,395.3 1223.5,397.7 1222.0,400.3 1220.0,402.5 1219.1,404.7 1216.7,406.3 1214.2,408.0 1212.5,410.0 1210.7,412.4 1209.4,415.1 1209.0,417.4 1207.5,420.0 1205.3,421.2 1203.7,424.0 1202.5,426.2 1205.7,426.8 1207.3,429.5 1210.1,430.6 1212.5,431.2 1215.8,431.2 1219.1,432.6 1222.1,433.8 1225.0,433.8 1228.4,433.1 1231.3,432.6 1233.4,431.1 1236.7,430.1 1240.0,430.0 1243.0,427.9 1246.2,427.6 1249.3,426.4 1251.5,425.2 1255.0,423.8 1258.5,423.0 1261.0,421.2 1263.7,420.5 1267.0,419.3 1270.0,417.5 1271.9,415.7 1274.9,415.8 1278.1,414.4 1280.0,413.0 1282.4,411.8 1285.1,410.4 1287.8,409.7 1290.0,408.0 1292.2,406.5 1294.0,403.6 1297.0,402.0 1298.4,399.9 1299.0,397.0 1297.9,394.8 1296.0,392.0 1296.0,387.0 1298.1,385.3 1301.6,385.3 1304.0,384.0 1320.0,384.4 1322.7,385.9 1326.0,387.0 1328.8,386.6 1331.2,386.2 1334.2,386.6 1337.8,386.3 1340.0,385.0 1342.2,382.8 1346.0,382.7 1348.0,381.0 1350.7,379.5 1354.0,378.0 1354.0,370.0 1352.3,367.3 1352.0,365.0 1354.8,362.9 1358.0,362.0 1359.4,358.9 1362.5,357.5 1364.0,354.0 1367.1,352.5 1370.0,350.5 1372.0,348.0 1374.0,345.7 1375.6,344.9 1378.0,343.0 1380.6,340.8 1384.0,340.4 1455.0,340.0 1455.9,336.7 1457.0,333.0 1459.3,331.7 1462.6,331.2 1465.0,331.0 1468.5,329.0 1472.0,329.0 1474.1,326.9 1476.3,323.8 1477.8,321.4 1479.0,318.0 1479.1,315.4 1480.7,312.7 1480.0,310.0 1481.1,307.3 1482.1,304.9 1484.0,302.0 1484.0,298.8 1485.0,296.1 1486.0,294.0 1487.5,291.4 1489.8,289.3 1492.1,286.0 1494.0,284.0 1496.8,282.3 1498.5,279.9 1500.7,278.6 1502.0,276.0 1507.0,275.6 1507.4,278.0 1509.0,281.0 1512.3,280.7 1515.8,280.0 1518.2,278.4 1522.0,278.0 1524.4,279.7 1528.0,280.0 1529.9,282.2 1532.5,284.6 1534.0,287.0 1533.6,320.0 1534.9,322.9 1538.0,325.0 1538.3,327.9 1539.2,330.9 1540.0,334.0 1542.8,335.3 1546.0,337.8 1548.0,340.0 1548.5,342.7 1549.0,346.0 1545.6,347.7 1544.0,350.0 1541.7,351.3 1539.3,353.0 1536.0,354.0 1533.8,354.9 1531.0,355.8 1528.0,356.0 1524.9,357.0 1522.6,357.5 1520.0,359.0 1517.9,357.5 1516.0,356.0 1514.0,354.0 1513.2,356.9 1510.1,358.5 1509.0,362.0 1506.6,364.1 1504.1,365.3 1502.0,368.0 1499.4,369.4 1496.0,370.0 1493.8,371.5 1490.6,372.1 1489.0,374.0 1486.7,374.1 1484.0,376.0 1482.9,378.8 1480.1,379.5 1479.0,382.0 1477.5,383.5 1475.6,386.5 1474.0,388.0 1471.6,389.9 1470.1,391.2 1469.0,394.0 1468.9,396.5 1467.0,399.0 1468.0,402.0 1471.0,406.0 1468.3,408.1 1466.0,410.0 1466.8,413.6 1469.0,416.0 1472.0,420.0 1474.4,421.7 1476.8,422.6 1479.0,424.0 1482.6,424.2 1485.0,426.0 1486.3,422.9 1488.0,421.0 1484.0,418.0 1486.2,419.6 1489.0,421.0 1488.8,424.5 1487.0,428.0 1483.2,428.8 1480.0,430.0 1477.6,431.2 1474.0,431.0 1471.6,432.3 1469.7,433.7 1467.0,435.0 1464.6,435.6 1461.7,437.4 1458.3,437.2 1456.0,439.0 1453.0,439.3 1450.9,441.4 1447.2,441.2 1445.0,443.0 1442.9,444.1 1439.5,444.9 1437.3,445.8 1433.8,446.4 1432.3,447.9 1429.0,448.4 1426.4,449.7 1423.7,450.0 1420.3,451.0 1418.0,452.5 1415.0,453.1 1411.5,452.8 1408.4,453.7 1405.0,455.0 1402.5,456.6 1400.0,457.0 1399.0,456.7 1401.3,459.6 1402.2,461.8 1404.0,464.8 1404.1,468.2 1402.7,471.9 1402.6,474.9 1401.9,478.1 1400.1,481.6 1399.2,483.9 1397.0,487.0 1396.0,489.7 1392.6,491.3 1391.0,493.9 1389.9,496.0 1386.9,497.8 1384.9,501.1 1381.6,498.7 1379.8,496.0 1378.8,494.0 1376.8,491.9 1374.8,490.0 1373.6,487.9 1372.3,486.0 1371.7,482.9 1370.1,481.1 1369.1,478.5 1368.7,481.5 1370.3,484.9 1370.3,487.6 1372.5,490.5 1373.1,493.0 1373.7,495.9 1376.4,498.0 1376.8,501.1 1378.7,504.4 1379.8,507.1 1380.8,509.6 1379.9,512.2 1381.2,515.2 1380.5,518.2 1379.2,520.0 1378.8,523.3 1378.5,525.7 1375.5,527.4 1374.8,530.4 1372.5,532.8 1371.8,535.1 1369.7,537.4 1367.2,539.3 1366.6,542.6 1364.7,544.5 1363.1,547.5 1360.6,550.5 1358.8,547.0 1359.0,543.5 1360.5,540.9 1361.1,538.8 1361.0,535.4 1362.5,533.0 1365.8,531.6 1366.7,529.3 1366.9,527.0 1367.7,524.3 1364.9,522.4 1362.3,520.3 1361.1,518.1 1358.4,516.3 1356.2,515.2 1355.7,511.7 1354.2,509.2 1355.3,506.7 1355.7,503.8 1357.0,501.1 1357.0,498.7 1355.0,495.6 1355.0,493.0 1355.4,490.9 1356.3,487.9 1358.2,486.0 1360.2,482.5 1357.0,483.9 1354.3,487.0 1351.8,489.0 1349.0,491.4 1348.1,494.0 1349.0,497.1 1349.1,501.1 1350.8,503.5 1350.6,506.6 1352.0,509.2 1351.6,512.8 1350.1,516.2 1350.8,518.8 1351.6,521.4 1352.8,523.3 1353.4,529.3 1351.8,531.9 1350.5,535.4 1351.3,538.6 1353.6,541.5 1352.5,544.3 1351.6,547.5 1353.1,549.6 1355.6,551.5 1357.8,553.0 1359.6,555.6 1363.0,558.0 1364.5,561.2 1364.3,563.9 1365.6,567.4 1366.0,570.0 1366.9,572.7 1367.5,576.3 1367.9,578.9 1370.0,582.0 1370.6,585.3 1371.0,588.0 1367.9,589.8 1367.1,592.6 1364.0,594.0 1362.8,596.3 1359.3,597.4 1358.0,600.0 1356.0,602.2 1354.7,605.0 1354.0,608.0 1352.2,611.2 1349.5,612.5 1348.0,616.0 1345.0,615.0 1342.3,616.1 1340.4,617.9 1338.1,619.3 1335.1,620.5 1332.6,620.8 1330.0,622.5 1328.2,625.1 1325.0,625.8 1323.0,628.2 1320.0,630.0 1316.6,630.7 1314.4,633.2 1310.7,634.0 1307.5,635.0 1305.2,636.4 1302.7,639.4 1300.3,640.6 1297.5,642.5 1295.6,645.2 1294.0,647.0 1292.1,649.0 1290.0,651.0 1287.1,652.8 1286.4,655.0 1283.9,656.5 1282.4,660.0 1280.0,661.0 1277.3,662.6 1274.7,663.9 1272.8,664.8 1270.4,667.1 1267.5,667.5 1264.5,669.4 1262.9,672.0 1260.2,673.3 1257.5,675.0 1257.3,677.5 1255.4,680.4 1255.4,682.8 1253.8,685.0 1252.1,687.7 1252.6,689.9 1249.9,692.6 1250.0,695.0 1249.2,697.1 1247.3,699.6 1246.2,702.3 1246.0,705.0 1245.1,707.7 1245.0,710.9 1245.4,714.7 1245.0,717.5 1244.9,720.4 1246.8,723.5 1246.8,726.8 1247.5,730.0 1249.1,732.5 1249.2,736.5 1251.4,738.8 1250.9,741.7 1252.5,745.0 1252.6,747.7 1254.0,750.9 1254.7,753.6 1256.0,756.7 1256.9,759.7 1257.5,762.5 1258.6,765.4 1260.4,768.3 1260.4,771.2 1261.1,774.9 1262.5,777.5 1263.3,780.1 1264.1,782.9 1265.7,786.0 1266.6,788.9 1266.5,791.6 1267.5,795.0 1268.1,797.7 1269.1,801.4 1270.3,803.6 1271.5,806.9 1272.5,810.0 1272.1,812.8 1272.9,816.6 1273.6,819.4 1275.2,822.4 1275.0,825.0 1274.8,828.3 1273.8,830.3 1273.9,834.0 1275.2,836.3 1273.6,838.9 1273.2,841.9 1273.8,845.0 1272.3,847.6 1271.8,851.7 1271.6,854.3 1270.0,857.5 1267.6,859.0 1265.8,861.2 1262.5,863.0 1260.0,863.8 1257.2,862.9 1254.6,863.5 1252.5,862.5 1250.9,859.3 1251.1,855.9 1250.0,852.5 1248.7,849.8 1246.1,847.7 1243.5,846.1 1242.5,843.8 1241.1,840.8 1239.8,837.8 1237.5,835.0 1237.1,832.0 1234.6,829.9 1233.8,827.8 1232.5,825.0 1231.3,822.6 1229.4,819.8 1226.8,816.9 1225.0,815.0 1223.8,811.7 1222.3,809.4 1220.5,806.3 1220.0,802.5 1219.7,799.5 1219.0,796.1 1217.8,793.9 1218.4,790.9 1217.5,787.5 1217.3,784.1 1218.4,780.8 1220.0,777.5 1218.8,774.4 1219.0,771.5 1218.4,768.1 1217.5,765.0 1214.8,762.6 1213.6,760.6 1211.1,757.9 1210.0,755.0 1208.4,751.8 1206.0,750.3 1203.1,748.0 1202.2,745.0 1200.0,742.5 1197.7,740.1 1195.4,737.3 1191.9,736.1 1190.0,733.8 1187.8,735.6 1185.3,735.7 1182.5,737.5 1180.0,737.5 1178.0,739.9 1174.8,739.7 1172.7,742.8 1170.0,743.8 1166.9,743.3 1164.6,742.3 1161.2,742.5 1159.7,740.3 1157.8,737.6 1157.9,734.6 1155.2,732.6 1155.0,730.0 1152.8,728.0 1150.3,726.5 1147.5,726.0 1145.0,723.8 1142.4,724.1 1138.7,723.6 1135.7,722.6 1133.3,722.3 1130.0,722.5 1127.0,722.9 1123.9,722.9 1120.9,724.5 1118.1,723.5 1115.0,725.0 1112.2,724.7 1108.8,726.0 1107.5,723.6 1107.2,719.8 1106.0,717.5 1105.3,720.1 1104.8,722.9 1105.7,726.4 1105.0,728.8 1102.4,727.2 1099.7,725.7 1097.2,724.9 1095.0,723.8 1091.6,724.2 1088.8,725.4 1086.2,725.8 1083.0,727.3 1080.0,727.5 1077.5,730.0 1074.2,732.4 1071.0,733.0 1073.7,733.3 1077.4,734.7 1079.4,736.0 1082.5,737.5 1082.7,739.9 1080.4,742.5 1080.0,745.0 1078.3,747.5 1077.5,750.0 1080.1,751.7 1081.7,754.4 1082.9,757.3 1085.0,758.8 1082.4,760.3 1080.0,760.0 1078.7,757.1 1076.2,756.6 1075.0,753.8 1072.3,753.8 1069.1,751.3 1066.2,751.2 1063.8,753.8 1062.0,755.9 1060.0,758.8 1057.4,759.8 1054.0,758.8 1050.7,760.0 1047.5,760.0 1044.6,758.8 1042.1,756.0 1040.0,753.8 1038.1,752.2 1036.9,749.3 1034.8,747.5 1032.5,746.2 1029.6,745.4 1027.2,742.9 1025.0,741.2 1022.5,743.3 1020.2,744.4 1017.5,746.2 1014.7,745.2 1011.2,744.8 1007.5,745.0 1004.4,745.1 1000.9,742.5 997.8,743.1 995.0,741.2 985.0,741.2 982.2,742.3 980.2,743.7 977.3,744.5 975.0,745.0 971.8,745.8 969.7,746.0 966.5,745.5 963.8,746.2 962.2,749.4 960.0,752.0 957.5,753.8 955.1,755.9 953.6,757.8 952.1,760.4 950.0,762.5 947.5,762.9 945.1,764.1 943.0,766.7 939.6,766.8 937.5,768.8 934.7,770.0 932.7,771.1 929.7,771.6 927.5,772.5 924.6,773.8 922.8,776.0 920.0,777.5 918.8,780.4 916.5,781.9 915.9,784.4 913.8,786.2 911.2,788.0 910.1,790.9 907.5,792.5 907.5,800.0 905.1,800.9 903.9,803.7 901.2,805.0 904.5,806.8 907.5,807.5 907.8,810.6 907.2,814.1 906.2,817.5 907.0,820.3 908.4,823.4 908.2,827.4 910.0,830.0 911.8,833.3 912.6,835.9 912.0,839.9 913.8,842.5 905.0,842.5 901.8,841.5 898.1,842.1 895.0,841.0 892.4,840.6 890.3,839.0 887.2,837.5 885.2,835.9 882.5,835.0 880.2,832.9 877.0,831.8 874.7,829.4 872.5,827.5 872.0,824.7 869.9,822.2 868.6,820.3 867.5,817.0 866.0,815.0 866.2,811.4 866.0,808.1 865.0,805.0 863.6,801.9 861.3,799.1 860.0,796.0 857.5,793.8 856.6,790.0 854.7,787.8 852.5,785.0 850.9,782.6 849.8,780.0 848.1,777.0 845.9,775.2 845.0,772.5 844.3,769.9 842.3,767.1 840.4,765.4 839.3,762.6 839.5,759.6 837.5,757.5 835.0,756.1 833.7,753.5 831.8,751.8 830.0,750.0 827.9,747.4 824.5,745.7 822.5,743.8 818.9,743.9 815.5,743.1 812.5,742.5 808.6,742.8 806.2,742.0 802.5,741.2 799.7,743.5 796.2,745.0 796.3,747.8 794.5,750.2 793.8,752.4 792.5,755.0 791.2,758.4 788.4,760.4 787.5,763.8 784.5,762.9 782.7,761.6 780.0,760.0 776.9,758.8 775.2,756.1 772.5,755.0 769.9,753.1 766.8,751.4 764.7,749.5 762.5,747.5 760.7,744.3 758.4,742.7 756.2,740.0 755.8,737.5 755.7,734.4 755.1,731.6 753.8,728.8 752.1,726.9 750.7,724.7 748.1,722.6 747.5,720.0 744.9,718.6 742.3,716.6 739.8,714.4 737.5,712.5 735.9,710.5 734.1,707.9 731.0,707.3 730.0,705.0 728.5,702.4 725.5,701.5 724.9,699.5 722.5,697.5 719.3,695.7 718.5,693.1 715.6,691.8 713.8,688.8 682.5,688.8 682.5,700.8 662.5,700.8 621.2,700.8 542.5,670.0 542.5,665.0 495.0,669.5 495.0,668.8 492.4,665.7 491.0,662.5 490.0,659.6 490.2,655.4 488.8,652.5 485.8,650.1 484.4,647.1 482.2,644.5 480.0,642.5 477.2,640.2 473.9,639.7 471.4,637.5 468.8,636.0 466.5,633.3 465.0,631.0 462.3,630.2 459.2,630.2 456.4,629.0 453.3,628.3 450.0,627.5 447.5,626.3 444.7,624.8 441.8,624.5 439.9,622.5 437.3,620.8 435.0,620.3 432.5,618.8 430.0,617.1 426.2,616.6 422.7,616.8 420.0,615.0 419.2,611.5 417.5,608.7 417.0,606.0 416.9,603.2 415.0,600.0 414.1,597.2 412.0,594.8 411.0,592.6 410.0,590.0 408.7,587.2 407.5,585.0 405.2,582.9 403.6,580.0 402.5,577.3 400.0,575.0 399.4,572.3 397.6,570.2 396.0,567.1 395.1,564.6 393.8,562.5 393.0,559.4 392.5,555.8 392.5,552.5 390.3,550.2 387.4,549.3 386.4,546.3 383.8,545.0 382.0,543.0 381.1,540.6 381.7,537.1 380.0,535.0 379.2,531.1 378.0,528.0 376.4,525.2 373.8,523.8 372.0,520.4 370.0,517.5 368.7,515.0 367.3,513.1 365.6,510.8 363.8,508.8 362.8,506.6 360.4,505.1 359.3,501.5 357.5,500.0 356.9,497.5 356.1,494.5 354.9,492.7 353.8,490.0 352.7,487.0 352.0,483.9 351.9,480.1 351.0,477.5 348.7,475.4 347.4,473.3 347.0,469.6 345.0,467.5 344.8,464.7 342.1,463.0 342.0,459.5 341.0,457.5 342.8,454.4 342.6,451.2 343.8,447.5 344.7,444.5 344.5,441.2 346.0,437.5 344.7,434.1 344.5,430.4 345.0,427.5 343.3,424.9 342.8,423.2 342.5,420.0 342.2,417.6 341.0,415.0 341.2,411.9 339.4,408.2 340.0,405.0 339.5,402.0 338.9,400.2 337.5,397.5 338.5,394.9 338.9,392.1 339.5,390.0 339.7,386.4 341.0,384.6 340.4,380.7 342.4,378.5 342.5,375.0 342.7,371.7 342.9,368.5 343.9,366.4 344.3,362.9 345.0,360.0 345.3,356.8 345.1,353.6 345.9,350.8 346.8,348.1 347.0,345.0 347.3,341.6 348.9,338.6 348.6,335.9 349.0,332.5 349.5,320.0 350.0,310.0 351.0,307.0 350.0,302.5 348.7,299.3 349.7,296.5 349.0,294.0 350.5,291.5 352.5,289.5 348.0,289.0 347.2,285.0 345.0,282.5 344.4,279.8 343.1,276.5 342.5,274.0 340.5,271.3 339.1,268.2 337.5,266.0 337.2,263.2 334.6,260.9 334.5,257.5 333.6,254.2 333.0,251.0 336.2,252.5 339.5,251.7 342.2,253.9 345.0,254.0 347.9,255.1 351.3,256.8 354.7,257.5 357.5,258.0 367.5,257.5 374.0,257.0 374.0,245.0 374.0,242.2 374.8,238.4" fill="#e5e5e5"/><polygon points="1400.0,457.0 1408.0,455.0 1420.0,456.0 1436.0,450.5 1448.0,446.3 1448.0,443.5 1432.0,446.0 1416.0,450.5 1404.0,453.0" fill="#e5e5e5"/>
<g clip-path="url(#land)">
<g filter="url(#fY)" fill="#ffff00"><polygon points="375.0,457.5 385.0,452.5 392.5,460.0 397.5,475.0 405.0,492.5 410.0,507.5 402.5,512.5 392.5,512.5 385.0,500.0 380.0,485.0 376.2,470.0"/><polygon points="791.0,591.7 803.3,590.0 816.7,576.7 833.3,570.0 843.3,558.3 860.0,546.7 893.3,543.3 906.7,536.7 916.7,543.3 946.7,543.3 966.7,550.0 970.7,566.7 975.0,584.7 990.0,587.7 1005.0,590.7 1014.0,586.0 1023.0,580.0 1032.0,571.0 1044.0,565.3 1053.3,556.7 1070.0,551.7 1076.7,546.7 1093.3,550.0 1106.7,553.3 1108.3,560.0 1126.7,566.7 1146.7,570.0 1148.3,586.7 1133.3,593.3 1120.0,586.7 1121.7,601.7 1150.0,600.0 1160.0,596.7 1176.7,586.7 1186.7,578.3 1203.3,585.0 1190.0,596.7 1186.7,603.3 1206.7,605.0 1223.3,623.3 1210.0,630.0 1193.3,636.7 1180.0,650.0 1170.0,663.3 1156.7,666.7 1143.3,653.3 1126.7,646.7 1106.7,643.3 1100.0,630.0 1090.0,623.3 1080.0,643.3 1066.7,650.0 1065.0,633.3 1060.0,616.7 1053.3,613.3 1040.0,623.3 1026.7,630.0 1013.3,640.0 993.3,636.7 980.0,633.3 970.0,636.7 960.0,633.3 946.7,631.7 930.0,638.3 913.3,636.7 896.7,633.3 883.3,626.7 870.0,623.3 856.7,616.7 853.3,613.3 840.0,620.0 836.7,636.7 826.7,643.3 810.0,650.0 793.3,663.3 791.0,665.0"/><polygon points="1203.3,600.0 1226.7,590.0 1243.3,583.3 1266.7,576.7 1293.3,570.0 1310.0,566.7 1326.7,553.3 1333.3,533.3 1346.7,540.0 1360.0,563.3 1370.0,586.7 1376.7,600.0 1350.0,616.7 1326.7,616.7 1306.7,606.7 1293.3,620.0 1280.0,613.3 1260.0,620.0 1236.7,626.7 1223.3,623.3 1213.3,613.3 1206.7,605.0"/><polygon points="860.0,550.0 880.0,547.0 907.5,542.0 915.0,544.5 945.0,545.5 965.0,548.5 967.5,553.8 845.0,553.8"/><polygon points="405.7,532.4 438.1,536.2 449.6,551.4 459.1,566.7 462.9,583.8 457.2,597.2 445.7,601.0 434.3,589.6 424.8,574.3 415.2,559.1 407.6,547.6"/><polygon points="462.9,602.9 476.2,595.3 489.6,602.9 502.9,610.5 499.1,620.1 485.8,618.2 472.4,616.2 464.8,612.4"/><polygon points="464.8,623.9 480.1,622.0 495.3,629.6 501.0,641.0 495.3,648.7 483.9,642.9 472.4,633.4"/><polygon points="598.2,604.8 609.7,604.8 609.7,622.0 600.2,622.0"/><polygon points="640.2,663.9 661.2,662.0 662.1,698.2 645.9,696.3 636.4,677.2"/><polygon points="697.7,654.4 707.2,629.6 712.9,639.1 716.7,662.0 712.9,681.1 682.4,684.9 681.5,697.3 667.2,697.3 667.2,673.5 682.4,677.3"/><polygon points="726.3,643.0 730.1,658.2 733.9,673.5 745.3,671.6 753.0,681.1 726.3,682.0"/><polygon points="749.1,631.5 758.7,610.5 768.2,616.3 775.8,623.9 787.3,622.0 791.1,663.9 781.6,667.7 773.9,658.2 764.4,646.8 756.8,654.4 753.0,669.6 749.1,654.4"/><polygon points="760.6,593.4 775.8,589.6 791.5,591.5 791.5,604.8 773.9,604.8 764.4,599.1"/><polygon points="612.0,576.2 619.6,578.1 620.5,589.6 614.8,592.4 611.0,585.7"/><polygon points="594.8,606.7 606.2,606.7 610.0,620.0 606.2,629.6 598.6,625.8 594.8,616.2"/></g>
<g filter="url(#fYD)" fill="#eddc00"><polygon points="860.0,556.7 906.7,550.0 946.7,553.3 966.7,560.0 968.3,620.0 946.7,623.3 926.7,626.7 906.7,623.3 886.7,616.7 866.7,610.0 856.7,596.7 856.7,570.0"/><polygon points="800.0,603.3 826.7,586.7 850.0,580.0 853.3,606.7 836.7,626.7 813.3,636.7 796.7,630.0"/><polygon points="980.0,596.7 1000.0,595.0 1026.7,591.7 1050.0,576.7 1058.3,586.7 1053.3,606.7 1033.3,620.0 1006.7,626.7 983.3,620.0"/><polygon points="1073.3,566.7 1106.7,563.3 1113.3,576.7 1110.0,596.7 1080.0,601.7 1066.7,593.3"/><polygon points="1106.7,613.3 1126.7,610.0 1153.3,611.7 1160.0,630.0 1153.3,646.7 1133.3,640.0 1113.3,633.3"/><polygon points="1166.7,616.7 1193.3,610.0 1203.3,620.0 1186.7,633.3 1170.0,633.3"/><polygon points="1233.3,596.7 1260.0,583.3 1293.3,576.7 1326.7,570.0 1353.3,573.3 1360.0,590.0 1340.0,603.3 1313.3,603.3 1286.7,606.7 1260.0,603.3"/><polygon points="409.5,540.0 430.5,540.0 438.1,551.4 434.3,562.9 422.9,561.0 415.2,551.4"/></g>
<g filter="url(#fYs)" fill="#ffff00"><polygon points="500.0,552.5 520.0,550.0 545.0,545.0 556.2,550.0 556.2,560.0 535.0,565.0 520.0,560.0 505.0,560.0"/><polygon points="560.0,555.0 585.0,555.0 595.0,570.0 585.0,585.0 570.0,590.0 560.0,580.0"/><polygon points="595.0,605.0 610.0,610.0 615.0,625.0 600.0,633.0 590.0,622.5"/><polygon points="595.0,605.0 607.5,615.0 617.5,635.0 630.0,652.5 645.0,665.0 661.2,672.5 661.2,697.5 625.0,698.8 612.5,690.0 625.0,685.0 620.0,665.0 610.0,645.0 600.0,630.0"/><polygon points="722.5,687.5 740.0,690.0 755.0,700.0 762.5,715.0 790.0,725.0 785.0,732.5 767.5,735.0 757.5,725.0 745.0,707.5 730.0,697.5"/><polygon points="548.7,553.3 571.6,553.3 590.6,578.1 590.6,631.5 571.6,620.1 556.3,597.2"/><polygon points="594.4,602.9 609.7,602.9 621.1,576.2 624.9,591.5 617.3,623.9 638.3,646.7 661.2,662.0 663.1,698.2 621.1,698.2 609.7,673.4 624.9,662.0 609.7,646.7 598.2,623.9"/><polygon points="640.9,509.3 651.0,507.6 654.4,514.3 647.7,521.0 642.6,517.7"/><polygon points="622.4,524.4 637.6,521.0 640.9,537.9 647.7,544.6 634.2,549.6 614.0,548.0 620.8,537.9"/><polygon points="666.2,665.8 682.4,673.5 695.8,662.0 699.6,646.8 709.1,620.1 714.8,635.3 718.6,654.4 716.7,671.6 712.9,683.0 680.5,686.8 680.5,698.2 666.2,698.2"/></g>
<g filter="url(#fY2s)" fill="#ffff00"><polygon points="483.9,551.4 514.4,547.6 533.4,551.4 546.8,578.1 544.9,602.9 533.4,620.1 522.0,616.2 506.7,602.9 491.5,587.7"/></g>
<g filter="url(#fRB)" fill="#ff4500"><polygon points="768.3,340.0 770.0,321.7 776.7,320.0 781.7,326.7 796.7,330.0 806.7,318.3 823.3,315.0 826.7,310.0 833.3,303.3 843.3,300.0 848.3,308.3 856.7,311.7 873.3,313.3 880.0,310.0 886.7,301.7 900.0,298.3 910.0,291.7 918.3,285.0 926.7,285.0 930.0,293.3 933.3,301.7 946.7,310.0 956.7,315.0 966.7,323.3 983.3,321.7 993.3,326.7 1001.7,325.0 1011.7,323.3 1015.0,333.3 1013.3,345.0 1021.7,343.3 1030.0,336.7 1040.0,340.0 1045.0,350.0 1048.3,361.7 1058.3,358.3 1066.7,355.0 1080.0,356.7 1090.0,351.7 1096.7,346.7 1105.0,350.0 1111.7,355.0 1145.0,380.0 1156.7,376.7 1166.7,375.0 1180.0,370.0 1193.3,371.7 1200.0,376.7 1210.0,373.3 1220.0,378.3 1226.7,386.7 1226.7,416.7 1266.7,403.3 1266.7,430.0 1263.3,443.3 1261.7,460.0 1256.7,470.0 1246.7,476.7 1236.7,478.3 1230.0,470.0 1223.3,476.7 1213.3,480.0 1200.0,483.3 1193.3,475.0 1183.3,470.0 1180.0,478.3 1175.0,483.3 1171.7,483.3 1166.7,476.7 1161.7,465.0 1153.3,470.0 1143.3,475.0 1130.0,478.3 1123.3,473.3 1125.0,463.3 1118.3,461.7 1115.0,460.0 1108.3,456.7 1096.7,451.7 1086.7,443.3 1076.7,446.7 1066.7,451.7 1056.7,453.3 1050.0,446.7 1048.3,436.7 1043.3,436.7 1040.0,443.3 1030.0,446.7 1028.3,438.3 1016.7,430.0 1000.0,426.7 986.7,430.0 980.0,443.3 973.3,450.0 963.3,446.7 956.7,438.3 948.3,443.3 940.0,430.0 933.3,426.7 920.0,430.0 900.0,435.0 886.7,443.3 880.0,453.3 870.0,460.0 856.7,456.7 843.3,460.0 833.3,463.3 820.0,468.3 813.3,470.0 815.0,480.0 818.3,486.7 813.3,493.3 810.0,500.0 800.0,506.7 790.0,505.0 780.0,506.7 766.7,513.3 753.3,520.0 743.3,516.7 750.0,503.3 746.7,493.3 743.3,483.3 741.7,470.0 745.0,460.0 753.3,451.7 766.7,446.7 768.3,443.3 766.7,433.3 756.7,426.7 746.7,421.7 745.0,413.3 753.3,406.7 750.0,400.0 760.0,396.7 768.3,393.3 768.3,386.7 763.3,385.0 753.3,386.7 743.3,383.3 746.7,376.7 753.3,371.7 763.3,370.0 768.3,363.3"/></g>
<g filter="url(#fRD)" fill="#e33b08"><polygon points="783.3,340.0 810.0,326.7 840.0,320.0 873.3,321.7 900.0,320.0 920.0,323.3 930.0,330.0 946.7,326.7 966.7,330.0 986.7,333.3 1000.0,340.0 1010.0,353.3 1026.7,363.3 1036.7,376.7 1046.7,386.7 1056.7,403.3 1053.3,416.7 1033.3,416.7 1013.3,406.7 993.3,410.0 973.3,416.7 953.3,410.0 940.0,416.7 930.0,430.0 913.3,426.7 893.3,430.0 876.7,436.7 860.0,443.3 840.0,440.0 820.0,436.7 800.0,430.0 783.3,416.7 776.7,396.7 783.3,383.3 780.0,363.3"/><polygon points="1053.3,370.0 1066.7,363.3 1086.7,363.3 1103.3,360.0 1108.3,370.0 1108.3,403.3 1083.3,403.3 1060.0,396.7"/><polygon points="1146.7,386.7 1166.7,381.7 1186.7,376.7 1200.0,383.3 1213.3,386.7 1218.3,403.3 1210.0,420.0 1193.3,426.7 1173.3,425.0 1146.7,423.3"/><polygon points="1063.3,411.7 1106.7,411.7 1111.7,426.7 1093.3,436.7 1073.3,430.0"/><polygon points="1123.3,430.0 1166.7,430.0 1166.7,443.3 1146.7,450.0 1126.7,446.7"/><polygon points="1220.0,436.7 1240.0,433.3 1253.3,446.7 1246.7,463.3 1230.0,463.3 1220.0,453.3"/><polygon points="750.0,460.0 783.3,450.0 806.7,450.0 808.3,490.0 793.3,496.7 766.7,493.3 753.3,480.0"/></g>
<g filter="url(#fR)" fill="#ff4500"><polygon points="367.5,325.0 380.0,327.5 377.5,335.0 370.0,342.5 366.2,342.5"/><polygon points="498.8,350.0 505.0,347.5 510.0,360.0 517.5,375.0 527.5,385.0 545.0,392.5 560.0,395.0 557.5,410.0 545.0,412.5 527.5,415.0 517.5,405.0 505.0,395.0 498.8,385.0"/><polygon points="470.0,372.5 480.0,367.5 492.5,360.0 493.8,375.0 492.5,395.0 492.5,417.5 462.5,417.5 467.5,400.0 477.5,395.0 480.0,385.0 472.5,380.0"/><polygon points="565.0,402.5 580.0,400.0 580.0,405.0 565.0,407.5"/><polygon points="672.5,345.0 687.5,347.5 700.0,365.0 705.0,375.0 695.0,380.0 685.0,370.0 677.5,357.5"/><polygon points="676.2,382.5 687.5,385.0 686.2,392.5 677.5,392.5"/><polygon points="720.0,342.5 742.5,343.8 740.0,357.5 730.0,362.5 725.0,370.0 720.0,355.0"/><polygon points="745.0,455.0 770.0,447.5 810.0,447.5 810.0,492.5 805.0,505.0 790.0,510.0 777.5,515.0 765.0,510.0 755.0,517.5 745.0,505.0 750.0,492.5 745.0,480.0 742.5,465.0"/><polygon points="810.0,480.0 820.0,482.5 817.5,492.5 810.0,497.5"/><polygon points="750.0,520.0 760.0,522.5 770.0,535.0 785.0,542.5 787.5,550.0 765.0,550.0 755.0,540.0"/><polygon points="500.0,635.0 507.5,640.0 510.0,662.5 505.0,663.8 502.5,647.5"/><polygon points="1295.9,384.9 1309.6,382.6 1324.8,385.6 1340.1,384.1 1352.3,378.8 1356.9,381.8 1359.9,386.4 1367.5,387.9 1376.7,391.0 1384.3,394.0 1393.4,397.1 1401.1,394.0 1407.2,387.9 1411.7,380.3 1414.8,375.7 1415.6,398.6 1411.7,418.4 1405.6,442.8 1399.5,445.9 1387.3,439.8 1384.3,430.6 1388.9,421.5 1393.4,409.3 1393.4,403.2 1390.4,403.9 1384.3,398.6 1375.2,394.0 1363.0,394.0 1352.3,398.6 1347.7,406.2 1341.6,412.3 1335.5,415.4 1332.5,409.3 1326.4,400.1 1320.3,403.2 1314.2,397.1 1306.5,398.6 1300.4,403.2 1292.8,406.2 1295.9,394.0"/><polygon points="1376.7,343.7 1393.4,343.0 1390.4,346.8 1381.3,348.3 1375.2,346.8"/><polygon points="1358.4,360.5 1366.0,359.0 1365.2,366.6 1359.9,368.1"/><polygon points="1411.7,343.0 1415.6,343.0 1415.6,380.3 1412.5,380.3"/><polygon points="1417.1,343.0 1423.9,343.0 1422.4,360.5 1420.9,380.3 1417.8,380.3"/><polygon points="1431.6,398.6 1439.2,394.0 1448.3,387.9 1454.4,377.3 1462.1,375.7 1466.6,383.4 1469.7,394.0 1471.2,403.2 1469.7,415.4 1474.3,424.5 1466.6,430.6 1454.4,436.7 1439.2,439.8 1423.9,442.8 1411.7,445.9 1413.3,418.4 1417.8,415.4 1427.0,409.3 1433.1,403.2"/><polygon points="1405.6,448.9 1423.9,442.8 1445.3,436.7 1448.3,442.8 1423.9,452.0 1405.6,456.5"/><polygon points="1475.0,369.6 1478.1,369.6 1477.3,375.7 1474.3,380.3 1473.5,375.7"/><polygon points="1266.9,420.0 1277.6,420.0 1279.1,427.6 1289.8,430.6 1292.8,439.8 1302.0,439.8 1311.1,442.8 1317.2,436.7 1326.4,435.2 1338.6,435.2 1344.7,427.6 1352.3,423.0 1363.0,424.5 1369.1,429.1 1375.2,433.7 1378.2,442.8 1384.9,446.6 1378.8,454.7 1370.7,458.7 1364.6,466.8 1356.6,470.7 1346.5,466.8 1336.4,468.7 1326.4,474.8 1314.2,476.8 1266.9,480.2"/><polygon points="431.2,277.0 445.5,271.6 456.3,268.0 461.7,278.8 474.2,286.0 481.4,293.1 488.6,296.7 493.1,303.9 494.0,312.9 468.9,314.7 463.5,325.4 456.3,330.8 445.5,332.6 434.8,332.6 424.0,329.0 427.6,321.8 434.8,318.3 445.5,311.1 434.8,303.9 424.0,309.3 415.1,303.9 418.6,294.9 427.6,296.7 434.8,300.3 442.0,296.7 434.8,287.8"/><polygon points="1378.8,438.5 1390.9,440.5 1403.0,448.6 1401.0,458.7 1390.9,460.7 1380.8,456.7 1376.8,448.6"/><polygon points="650.5,269.5 662.8,264.5 677.6,267.0 694.9,262.1 707.2,249.7 722.0,254.7 736.8,257.1 749.1,259.6 736.8,263.3 729.4,269.5 726.9,279.3 722.0,291.7 717.1,286.7 712.1,279.3 704.7,281.8 702.3,291.7 692.4,294.1 687.5,301.5 682.5,296.6 682.5,284.3 677.6,276.9 667.7,274.4"/><polygon points="670.2,318.8 682.5,311.4 697.3,304.0 712.1,296.6 726.9,296.6 739.3,289.2 751.6,281.8 766.4,271.9 766.4,294.1 761.5,311.4 754.1,328.7 741.7,338.5 731.9,343.5 726.9,353.3 722.0,338.5 717.1,328.7 709.7,321.3 697.3,321.3 689.9,331.1 685.0,323.7 677.6,323.7"/><polygon points="583.7,452.1 595.5,448.7 607.3,457.1 610.7,468.9 605.6,485.7 598.9,504.2 590.5,517.7 582.1,527.8 573.6,537.9 565.2,544.6 561.0,537.9 563.6,524.4 570.3,510.9 575.3,494.1 578.7,477.3 580.4,463.8"/><polygon points="634.2,465.5 644.3,458.8 661.1,457.1 661.1,490.8 651.0,494.1 644.3,489.1 640.9,480.7 635.9,473.9"/><polygon points="753.0,561.0 764.4,555.3 775.8,553.3 787.3,557.2 783.5,568.6 772.0,576.2 760.6,583.9 749.1,589.6 741.5,593.4 743.4,581.9 751.0,572.4"/><polygon points="720.5,599.1 732.0,595.3 741.5,591.5 743.4,604.8 741.5,620.1 739.6,631.5 743.4,643.0 741.5,665.8 733.9,667.7 730.1,658.2 732.0,643.0 726.3,629.6 720.5,620.1 718.6,608.6"/><polygon points="576.7,578.1 587.2,574.3 598.6,578.1 610.0,583.8 606.2,591.5 598.6,595.3 592.9,602.9 585.3,604.8 579.6,612.4 577.6,597.2 575.7,587.6"/><polygon points="629.1,555.2 636.7,557.2 644.4,568.6 652.0,581.9 657.7,591.5 662.5,595.3 662.5,620.0 653.9,616.2 648.2,602.9 642.4,589.6 634.8,578.1 629.1,566.7"/></g>
<g filter="url(#fRm)" fill="#ff4500"><polygon points="420.0,322.5 440.0,318.8 460.0,320.0 462.5,330.0 450.0,335.0 440.0,335.0 430.0,340.0 425.0,352.5 420.0,352.5 422.5,337.5 417.5,332.5"/><polygon points="357.5,377.5 370.0,380.0 375.0,395.0 380.0,410.0 377.5,418.8 347.5,418.8 347.5,407.5 357.5,400.0 360.0,387.5"/><polygon points="1267.7,478.8 1320.6,478.8 1309.9,490.5 1299.1,504.8 1288.4,519.2 1277.6,533.5 1266.8,542.5 1256.1,546.1 1245.3,546.1 1238.1,538.9 1241.7,529.9 1252.5,521.0 1263.3,512.0 1272.2,501.2 1277.6,488.7"/><polygon points="1229.2,546.1 1245.3,547.9 1270.4,544.3 1274.9,553.3 1261.5,562.2 1250.7,571.2 1238.1,582.0 1223.8,594.5 1205.9,602.6 1191.5,602.6 1198.7,590.9 1214.8,582.0 1229.2,571.2 1238.1,560.4 1229.2,556.8 1218.4,557.7"/><polygon points="565.2,425.1 583.7,421.8 605.6,423.5 603.9,435.2 590.5,440.3 573.6,438.6 565.2,433.6"/><polygon points="561.0,465.5 570.3,473.9 573.6,490.8 568.6,504.2 561.0,510.9"/><polygon points="615.7,489.1 625.8,480.7 634.2,484.0 632.5,497.5 627.5,510.9 619.1,517.7 614.0,507.6"/><polygon points="666.2,553.3 697.7,553.3 703.4,562.9 699.6,574.3 707.2,581.9 701.5,591.5 688.1,589.6 680.5,597.2 676.7,612.4 674.8,623.9 666.2,623.9"/><polygon points="712.9,568.6 733.9,568.6 730.1,578.1 722.4,581.9 714.8,576.2"/><polygon points="667.2,639.1 678.6,633.4 691.9,629.6 705.3,631.5 701.5,639.1 693.9,646.8 691.9,662.0 680.5,662.0 678.6,652.5 669.1,650.6"/><polygon points="592.9,597.2 602.4,595.3 612.0,602.9 621.5,610.5 632.9,616.2 644.4,622.0 661.5,620.0 661.5,646.7 652.0,642.9 644.4,635.3 636.7,627.7 625.3,625.8 613.9,620.0 606.2,612.4 596.7,606.7"/><polygon points="1258.6,453.8 1264.9,453.8 1264.9,478.9 1256.8,486.1 1251.4,484.3 1256.8,471.7"/></g>
<g filter="url(#fRd)" fill="#ff4500"><polygon points="454.3,423.1 481.9,421.5 483.5,431.3 496.5,432.9 501.4,442.6 512.8,447.5 523.4,449.1 516.1,457.3 506.3,463.8 501.4,470.3 496.5,480.0 490.0,486.5 480.3,491.4 473.8,499.6 465.7,506.1 457.5,502.8 449.4,496.3 441.3,493.0 436.4,486.5 436.4,468.7 442.9,460.5 446.1,450.8 454.3,444.3 457.5,432.9"/><polygon points="490.0,496.3 496.5,491.4 498.2,502.8 506.3,512.6 512.8,510.9 522.6,499.6 529.1,506.1 533.9,512.6 542.1,507.7 548.6,496.3 555.1,483.3 556.7,506.1 556.7,528.8 551.8,537.0 542.1,538.6 532.3,532.1 525.8,538.6 516.1,548.3 506.3,545.1 499.8,532.1 493.3,519.1 488.4,506.1"/></g>
<g filter="url(#fRs)" fill="#ff4500"><polygon points="405.0,342.5 415.0,335.0 417.5,342.5 410.0,350.0 405.0,355.0"/><polygon points="425.0,335.0 445.0,337.5 445.0,355.0 427.5,352.5"/><polygon points="497.5,297.5 515.0,300.0 517.5,317.5 505.0,312.5"/><polygon points="345.0,420.0 385.0,420.0 395.0,432.5 405.0,447.5 402.5,452.5 390.0,450.0 382.5,460.0 380.0,480.0 370.0,485.0 362.5,495.0 352.5,485.0 345.0,467.5 342.5,455.0 347.5,437.5"/><polygon points="402.5,460.0 420.0,457.5 432.5,472.5 432.5,495.0 440.0,510.0 460.0,535.0 455.0,540.0 437.5,522.5 425.0,510.0 417.5,492.5 407.5,475.0"/><polygon points="370.0,510.0 385.0,520.0 395.0,540.0 402.5,560.0 415.0,585.0 425.0,605.0 445.0,610.0 460.0,607.5 455.0,622.5 432.5,622.5 420.0,610.0 405.0,585.0 392.5,560.0 382.5,540.0"/><polygon points="666.2,452.5 680.0,455.0 687.5,485.0 682.5,495.0 675.0,515.0 680.0,535.0 695.0,547.5 666.2,550.0"/><polygon points="410.0,590.0 430.0,590.0 450.0,600.0 465.0,600.0 462.5,612.5 450.0,620.0 435.0,617.5 420.0,615.0 415.0,602.5"/><polygon points="462.5,620.0 482.5,617.5 500.0,622.5 500.0,630.0 475.0,627.5"/><polygon points="1241.7,499.5 1259.7,501.2 1263.3,510.2 1248.9,513.8"/><polygon points="1288.4,519.2 1306.3,499.5 1315.3,503.0 1299.1,521.0 1292.0,531.7 1284.8,535.3"/><polygon points="440.2,237.6 446.4,237.6 447.3,260.9 458.1,263.6 463.5,257.3 472.4,251.9 475.1,263.6 488.6,267.1 493.1,272.5 481.4,270.7 470.6,268.0 459.9,269.8 445.5,271.6 434.8,277.0 429.4,268.0 438.4,260.9"/><polygon points="1346.5,460.7 1358.6,456.7 1370.7,460.7 1374.8,468.8 1366.7,474.9 1354.6,472.8"/><polygon points="457.2,564.8 480.1,564.8 480.1,602.9 462.9,602.9 457.2,587.7"/><polygon points="434.3,602.9 457.2,602.9 457.2,616.2 434.3,616.2"/><polygon points="468.6,619.1 495.3,620.1 495.3,625.8 468.6,624.8"/><polygon points="607.3,521.0 620.8,517.7 634.2,527.8 647.7,524.4 661.1,517.7 661.1,549.6 561.0,549.6 561.9,541.2 582.1,537.9 595.5,541.2 607.3,534.5"/><polygon points="1244.2,500.4 1256.8,496.8 1269.3,486.1 1280.1,480.7 1287.3,484.3 1283.7,500.4 1276.5,514.8 1265.8,525.5 1255.0,536.3 1244.2,539.9 1240.6,529.1 1247.8,518.4 1251.4,507.6"/><polygon points="434.8,488.2 457.5,502.8 473.8,506.1 483.5,519.1 486.8,532.1 473.8,528.8 457.5,515.8 441.3,506.1 434.8,499.6"/></g>
<g filter="url(#fG)" fill="#90ee90"><polygon points="785.0,700.0 805.0,697.5 812.5,707.5 800.0,715.0 787.5,710.0"/><polygon points="845.0,745.0 860.0,740.0 880.0,730.0 895.0,715.0 910.0,700.0 917.5,695.0 925.0,705.0 950.0,707.5 975.0,705.0 985.0,710.0 987.5,725.0 985.0,740.0 970.0,747.5 955.0,757.5 945.0,765.0 935.0,770.0 920.0,780.0 907.5,777.5 895.0,762.5 880.0,755.0 860.0,760.0 845.0,760.0"/><polygon points="990.0,710.0 995.0,697.5 1002.5,702.5 1005.0,712.5 1020.0,712.5 1040.0,715.0 1057.5,712.5 1071.2,710.0 1071.2,720.0 1076.2,732.5 1082.5,740.0 1085.0,760.0 1070.0,755.0 1057.5,756.2 1047.5,762.5 1037.5,752.5 1022.5,741.2 1015.0,747.5 1000.0,742.5 985.0,741.2 987.5,725.0"/><polygon points="1072.5,715.0 1085.0,712.5 1097.5,722.5 1105.0,717.5 1107.5,726.2 1095.0,726.2 1080.0,732.5 1075.0,727.5"/><polygon points="1117.5,712.5 1155.0,712.5 1170.0,707.5 1180.0,710.0 1202.5,707.5 1220.0,705.0 1230.0,700.0 1240.0,690.0 1247.5,695.0 1245.0,717.5 1250.0,740.0 1255.0,760.0 1240.0,765.0 1227.5,775.0 1222.5,765.0 1215.0,760.0 1207.5,750.0 1200.0,740.0 1190.0,733.8 1177.5,737.5 1167.5,742.5 1161.2,742.5 1155.0,732.5 1145.0,726.2 1132.5,723.8 1120.0,725.0"/><polygon points="907.5,658.8 922.5,656.2 922.5,667.5 907.5,665.0"/><polygon points="1210.0,750.0 1230.0,745.0 1250.0,740.0 1255.0,760.0 1235.0,767.5 1222.5,775.0 1217.5,765.0"/><polygon points="770.0,740.0 790.0,737.5 805.0,730.0 825.0,730.0 845.0,745.0 875.0,750.0 900.0,742.5 925.0,740.0 925.0,765.0 900.0,760.0 875.0,757.5 850.0,760.0 835.0,750.0 820.0,740.0 800.0,742.5 790.0,750.0 775.0,750.0"/><polygon points="882.5,720.0 900.0,707.5 912.5,692.5 925.0,700.0 925.0,740.0 900.0,740.0 887.5,732.5"/><polygon points="583.0,681.1 590.6,665.8 602.1,662.0 609.7,654.4 619.2,662.0 628.7,673.4 624.9,684.9 609.7,688.7 602.1,698.2 586.8,690.6"/><polygon points="541.1,561.0 552.5,557.2 558.2,564.8 556.3,572.4 544.9,576.2 537.2,570.5"/><polygon points="533.8,559.1 547.2,557.2 554.8,562.9 552.9,574.3 541.4,578.1 533.8,572.4"/></g>
<g filter="url(#fGs)" fill="#90ee90"><polygon points="485.8,559.1 506.7,562.9 533.4,578.1 550.6,601.0 548.7,627.7 544.9,654.4 533.4,663.9 514.4,646.7 499.1,616.2 485.8,587.7"/><polygon points="590.6,631.5 609.7,635.3 624.9,654.4 636.4,677.2 628.7,681.1 617.3,662.0 602.1,646.7 590.6,639.1"/></g>
<g filter="url(#fG2s)" fill="#90ee90"><polygon points="554.8,612.4 568.1,616.2 583.4,623.9 592.9,629.6 591.0,641.0 579.6,646.7 568.1,654.4 556.7,654.4 552.9,639.1 556.7,625.8"/></g>
<g filter="url(#fB)" fill="#00bbff"><polygon points="345.0,257.5 367.5,262.5 367.5,275.0 352.5,277.5 346.2,270.0"/><polygon points="387.5,237.5 440.0,237.5 437.5,247.5 427.5,262.5 425.0,275.0 420.0,290.0 412.5,300.0 402.5,310.0 382.5,315.0 380.0,305.0 387.5,292.5 390.0,275.0 392.5,257.5"/><polygon points="382.5,335.0 400.0,325.0 402.5,340.0 397.5,357.5 400.0,375.0 395.0,395.0 390.0,415.0 382.5,417.5 382.5,400.0 387.5,375.0 387.5,355.0"/><polygon points="480.0,327.5 495.0,330.0 500.0,342.5 485.0,345.0 475.0,337.5"/><polygon points="455.0,337.5 475.0,342.5 470.0,355.0 455.0,350.0"/><polygon points="437.5,367.5 460.0,365.0 467.5,375.0 440.0,377.5"/><polygon points="402.5,372.5 417.5,375.0 415.0,385.0 400.0,387.5"/><polygon points="410.0,397.5 425.0,407.5 420.0,415.0 410.0,407.5"/><polygon points="498.8,237.5 512.5,237.5 512.5,257.5 502.5,252.5"/><polygon points="520.0,238.8 585.0,238.8 588.8,260.0 595.0,282.5 596.2,300.0 585.0,307.5 570.0,300.0 557.5,282.5 545.0,275.0 532.5,267.5 520.0,255.0"/><polygon points="510.0,325.0 527.5,320.0 545.0,300.0 555.0,307.5 560.0,332.5 570.0,345.0 582.5,360.0 580.0,372.5 565.0,380.0 545.0,382.5 532.5,375.0 520.0,357.5 512.5,340.0"/><polygon points="557.5,300.0 595.0,297.5 600.0,310.0 597.5,325.0 615.0,330.0 645.0,325.0 655.0,337.5 620.0,342.5 615.0,350.0 582.5,352.5 570.0,340.0 560.0,325.0"/><polygon points="605.0,287.5 632.5,282.5 645.0,297.5 640.0,312.5 625.0,310.0 610.0,300.0"/><polygon points="650.0,296.2 662.5,296.2 662.5,302.5 650.0,302.5"/><polygon points="647.5,254.5 657.5,254.5 657.5,259.0 647.5,259.0"/><polygon points="623.8,342.5 655.0,342.5 665.0,365.0 670.0,385.0 670.0,405.0 650.0,415.0 627.5,425.0 623.8,420.0"/><polygon points="685.0,345.0 702.5,347.5 710.0,365.0 705.0,380.0 700.0,385.0 695.0,370.0 687.5,357.5"/><polygon points="610.0,390.0 620.0,387.5 620.0,417.5 612.5,410.0"/><polygon points="715.0,430.0 730.0,432.5 732.5,442.5 717.5,442.5"/><polygon points="725.0,407.5 735.0,410.0 735.0,417.5 725.0,415.0"/><polygon points="420.0,482.5 432.5,495.0 450.0,520.0 465.0,545.0 475.0,570.0 470.0,582.5 460.0,570.0 450.0,550.0 437.5,527.5 425.0,505.0"/><polygon points="710.0,435.0 730.0,432.5 740.0,460.0 745.0,492.5 745.0,515.0 737.5,535.0 742.5,560.0 735.0,582.5 725.0,560.0 715.0,540.0 700.0,540.0 682.5,530.0 682.5,510.0 695.0,492.5 702.5,472.5 710.0,460.0"/><polygon points="527.5,447.5 535.0,447.5 535.0,457.5 527.5,457.5"/><polygon points="545.0,482.5 555.0,482.5 552.5,505.0 545.0,502.5"/><polygon points="623.8,410.0 635.0,410.0 632.5,422.5 623.8,422.5"/><polygon points="617.4,450.4 627.5,449.5 624.1,460.5 620.8,473.9 619.1,489.1 612.3,497.5 610.7,485.7 615.7,468.9"/><polygon points="624.1,450.4 657.8,449.5 656.1,458.8 640.9,457.1 627.5,458.8"/><polygon points="603.9,504.2 614.0,502.5 617.4,517.7 612.3,527.8 603.9,526.1 590.5,517.7 595.5,510.9"/><polygon points="582.1,527.8 590.5,531.1 587.1,541.2 578.7,539.5"/><polygon points="716.7,553.3 726.3,553.3 722.4,563.8"/><polygon points="735.8,553.3 749.1,553.3 745.3,570.5 737.7,583.9 732.0,583.9 735.8,568.6"/></g>
<g filter="url(#fH)" fill="#e5e5e5"><polygon points="771.7,358.3 780.0,356.7 783.3,366.7 778.3,376.7 771.7,375.0"/><polygon points="1053.3,371.7 1060.0,371.7 1060.0,378.3 1053.3,378.3"/><polygon points="1196.0,443.6 1202.9,442.8 1202.9,449.7 1196.0,449.7"/><polygon points="790.0,602.0 802.7,608.0 814.0,603.3 831.7,610.3 855.3,610.3 855.3,618.7 838.7,632.3 827.3,621.3 805.0,626.0 790.0,632.3"/><polygon points="726.9,325.0 734.3,323.7 736.3,331.1 730.6,334.8 725.7,331.1"/><polygon points="520.1,503.6 526.6,502.8 529.1,512.6 524.2,525.6 518.5,523.9 520.9,514.2"/></g>
<g filter="url(#fM)" fill="#ff00ff"><polygon points="861.2,793.8 872.5,793.8 873.8,807.5 880.0,820.0 892.5,821.2 902.5,830.0 908.8,843.8 895.0,841.2 882.5,835.0 872.5,827.5 866.2,815.0 863.8,805.0"/><polygon points="1226.2,822.5 1232.5,825.0 1236.2,831.2 1230.0,830.0"/><polygon points="1245.0,845.0 1260.0,840.0 1270.0,831.2 1273.8,825.0 1273.8,845.0 1270.0,857.5 1260.0,863.8 1252.5,862.5 1248.8,852.5"/><polygon points="538.8,652.5 543.8,651.2 547.5,657.5 545.0,662.5 540.0,660.0"/><polygon points="490.5,557.5 495.0,560.0 499.5,571.2 503.8,578.8 511.2,586.2 510.0,588.0 502.0,581.2 497.0,572.5 493.5,563.8"/></g>

</g>
<g fill="#ffff00"><polygon points="1366.0,569.6 1371.6,584.2 1372.7,588.5 1371.9,598.7 1361.7,601.7 1358.7,599.5 1366.0,590.0 1369.2,584.9"/></g>
<g fill="#e33b08"><polygon points="442.0,649.0 446.0,649.0 446.0,653.0 442.0,653.0"/><polygon points="424.0,629.0 432.0,628.0 446.0,630.0 446.0,632.0 432.0,631.0 424.0,632.0"/></g>
<g fill="#00bbff"><polygon points="1080.2,264.3 1082.9,261.3 1090.1,258.0 1097.3,255.9 1099.1,258.0 1094.6,262.0 1088.3,265.2 1082.9,267.9"/><polygon points="1052.4,268.3 1062.3,265.6 1063.2,266.6 1053.3,269.3"/><polygon points="1052.4,285.8 1056.9,284.0 1057.8,288.2 1055.1,288.9"/></g>
<g fill="#e5e5e5"><polygon points="1213.0,877.0 1225.0,876.0 1240.0,872.0 1250.0,868.0 1251.0,870.0 1241.0,875.0 1226.0,879.0 1214.0,879.0"/><polygon points="461.0,643.0 466.0,645.0 467.0,648.0 462.0,646.0"/><polygon points="461.0,654.0 468.0,660.0 466.0,663.0 460.0,657.0"/></g>
<g fill="#ff00ff"><polygon points="1254.0,869.0 1262.0,862.0 1268.0,856.0 1270.0,857.0 1264.0,865.0 1256.0,872.0"/><polygon points="1226.0,821.0 1230.0,822.0 1236.0,829.0 1234.0,832.0 1229.0,829.0"/></g>
<g fill="#008cf8"><polygon points="1082.6,263.8 1085.6,261.3 1091.9,258.9 1094.6,259.8 1090.1,262.7 1085.6,265.2"/></g>

<g fill="none" stroke="#000" stroke-width="3.8" stroke-linejoin="round" stroke-linecap="round">
<polygon points="375.0,235.5 956.5,235.5 956.5,226.6 964.6,226.6 965.2,229.3 964.9,232.5 965.6,236.0 966.3,238.9 967.3,242.0 970.9,241.7 974.2,242.2 977.5,243.8 979.9,243.7 982.9,245.6 985.0,245.8 987.5,247.5 991.3,246.8 994.1,246.0 997.5,245.0 999.8,246.2 1002.8,246.3 1005.6,245.2 1008.8,246.2 1011.3,247.8 1013.4,249.1 1015.0,251.2 1018.1,252.3 1021.2,252.9 1025.0,253.8 1027.4,254.5 1028.9,257.3 1031.2,258.8 1034.0,257.4 1036.7,256.8 1040.1,256.4 1042.5,255.0 1045.2,255.4 1047.8,256.8 1050.0,257.5 1052.9,258.2 1055.8,259.0 1059.6,258.3 1062.5,258.8 1065.4,258.7 1068.4,259.2 1070.7,261.2 1073.1,262.0 1076.2,262.0 1073.2,263.1 1070.6,264.6 1067.1,265.7 1065.0,267.5 1062.4,268.9 1060.2,270.9 1056.9,271.2 1054.9,271.8 1052.5,273.8 1050.0,275.8 1048.1,278.0 1045.7,279.3 1042.8,281.6 1040.0,282.5 1038.1,284.5 1034.8,285.9 1033.0,287.7 1029.6,288.6 1027.5,290.0 1024.2,291.3 1022.5,293.6 1019.3,295.3 1016.8,296.5 1019.3,296.8 1021.7,294.5 1024.6,293.9 1027.2,293.9 1030.0,293.0 1032.7,291.4 1036.0,291.5 1039.4,292.0 1042.0,290.5 1044.7,290.1 1046.7,290.2 1049.7,289.4 1048.0,291.9 1047.1,294.4 1047.3,296.8 1046.2,299.3 1049.0,296.7 1052.4,295.7 1054.8,295.2 1057.8,296.6 1060.2,295.2 1063.0,294.6 1065.8,293.0 1069.0,292.3 1072.2,292.1 1075.0,289.7 1077.7,289.6 1080.4,287.5 1083.2,286.3 1086.5,285.0 1090.0,284.1 1091.9,282.2 1093.9,280.4 1097.3,279.6 1099.5,278.1 1102.5,277.0 1112.5,276.2 1113.8,278.8 1111.0,279.5 1108.3,282.8 1105.8,283.0 1103.1,284.4 1100.0,286.2 1099.4,289.2 1098.4,291.3 1098.8,293.8 1101.6,292.1 1105.0,291.2 1108.7,291.0 1111.9,292.2 1115.0,292.5 1116.9,293.9 1118.7,297.0 1120.3,298.8 1122.5,300.0 1126.0,301.1 1129.3,300.3 1132.5,301.2 1135.1,299.9 1138.2,298.0 1141.9,297.0 1145.0,296.2 1148.0,296.9 1151.6,296.6 1153.9,296.4 1156.7,294.7 1160.0,295.0 1171.2,294.5 1171.2,300.0 1174.0,300.2 1177.4,302.0 1180.0,302.5 1188.8,302.5 1188.5,305.1 1189.3,307.8 1190.0,310.0 1192.6,312.1 1193.8,315.0 1190.8,313.9 1188.3,314.0 1185.2,314.9 1182.4,314.3 1180.0,313.8 1176.9,312.4 1172.9,313.1 1170.0,312.5 1160.0,312.5 1157.1,312.9 1154.3,315.0 1150.1,314.6 1147.5,316.2 1144.9,317.9 1142.0,317.1 1140.0,318.8 1136.6,318.6 1133.7,318.7 1130.0,317.5 1126.7,319.4 1125.0,322.5 1123.2,325.3 1121.8,327.9 1119.9,329.4 1118.8,332.5 1117.4,335.1 1115.0,337.5 1113.7,340.7 1112.1,343.3 1110.0,346.0 1109.2,348.9 1107.8,350.4 1106.2,352.5 1108.6,350.1 1110.2,347.7 1112.0,346.0 1114.0,343.7 1115.7,341.9 1117.7,339.4 1120.0,337.0 1122.2,334.5 1124.6,333.5 1127.5,332.5 1125.8,335.5 1125.3,338.9 1123.5,342.1 1122.5,345.0 1122.0,348.4 1120.6,351.0 1118.2,353.8 1117.3,357.2 1116.2,360.0 1114.7,362.7 1114.5,366.0 1113.9,369.2 1113.3,372.1 1112.5,375.0 1112.1,378.4 1111.3,381.3 1110.5,383.6 1110.7,387.4 1110.5,390.0 1111.2,405.0 1111.1,407.9 1113.2,411.0 1113.9,414.0 1113.8,417.5 1115.8,419.6 1115.9,422.9 1118.2,424.5 1118.8,427.0 1121.5,427.8 1125.0,428.0 1128.3,427.0 1130.1,424.5 1132.5,423.8 1134.2,421.4 1137.2,419.8 1137.6,416.8 1140.0,415.0 1141.0,412.0 1141.5,408.7 1143.5,406.2 1144.2,402.5 1145.0,392.5 1144.2,389.4 1142.3,386.7 1142.4,383.0 1141.2,380.0 1139.5,377.3 1140.0,374.4 1138.1,373.0 1138.0,370.0 1138.0,360.0 1138.0,357.0 1139.1,355.2 1140.4,352.1 1141.2,350.0 1143.0,348.0 1143.3,344.3 1145.0,342.5 1147.7,340.4 1149.1,338.0 1152.5,336.2 1154.8,334.9 1156.5,332.0 1158.8,331.2 1159.2,335.0 1160.0,338.0 1160.4,335.0 1161.3,332.7 1163.0,331.0 1165.1,328.7 1167.5,326.2 1169.7,322.8 1171.2,320.0 1173.9,320.3 1176.8,321.6 1180.0,322.5 1183.1,322.9 1186.3,324.1 1189.3,325.8 1192.5,327.5 1194.6,329.1 1197.2,329.9 1199.7,330.8 1202.5,332.5 1204.3,334.3 1205.5,337.8 1207.5,340.0 1207.8,343.2 1206.0,345.8 1205.9,349.2 1206.2,352.5 1205.2,355.3 1204.6,357.6 1202.9,360.3 1202.5,362.5 1200.6,364.8 1198.4,366.1 1197.1,368.2 1195.0,370.0 1196.2,372.0 1196.7,375.1 1196.2,377.5 1197.9,375.5 1200.3,372.9 1203.4,372.3 1205.0,370.0 1207.5,368.1 1210.6,366.3 1213.8,365.0 1216.2,366.1 1218.6,368.3 1220.0,370.0 1219.7,373.4 1221.8,376.6 1222.2,379.2 1222.5,382.5 1224.3,385.5 1224.2,389.2 1225.0,392.5 1224.3,395.3 1223.5,397.7 1222.0,400.3 1220.0,402.5 1219.1,404.7 1216.7,406.3 1214.2,408.0 1212.5,410.0 1210.7,412.4 1209.4,415.1 1209.0,417.4 1207.5,420.0 1205.3,421.2 1203.7,424.0 1202.5,426.2 1205.7,426.8 1207.3,429.5 1210.1,430.6 1212.5,431.2 1215.8,431.2 1219.1,432.6 1222.1,433.8 1225.0,433.8 1228.4,433.1 1231.3,432.6 1233.4,431.1 1236.7,430.1 1240.0,430.0 1243.0,427.9 1246.2,427.6 1249.3,426.4 1251.5,425.2 1255.0,423.8 1258.5,423.0 1261.0,421.2 1263.7,420.5 1267.0,419.3 1270.0,417.5 1271.9,415.7 1274.9,415.8 1278.1,414.4 1280.0,413.0 1282.4,411.8 1285.1,410.4 1287.8,409.7 1290.0,408.0 1292.2,406.5 1294.0,403.6 1297.0,402.0 1298.4,399.9 1299.0,397.0 1297.9,394.8 1296.0,392.0 1296.0,387.0 1298.1,385.3 1301.6,385.3 1304.0,384.0 1320.0,384.4 1322.7,385.9 1326.0,387.0 1328.8,386.6 1331.2,386.2 1334.2,386.6 1337.8,386.3 1340.0,385.0 1342.2,382.8 1346.0,382.7 1348.0,381.0 1350.7,379.5 1354.0,378.0 1354.0,370.0 1352.3,367.3 1352.0,365.0 1354.8,362.9 1358.0,362.0 1359.4,358.9 1362.5,357.5 1364.0,354.0 1367.1,352.5 1370.0,350.5 1372.0,348.0 1374.0,345.7 1375.6,344.9 1378.0,343.0 1380.6,340.8 1384.0,340.4 1455.0,340.0 1455.9,336.7 1457.0,333.0 1459.3,331.7 1462.6,331.2 1465.0,331.0 1468.5,329.0 1472.0,329.0 1474.1,326.9 1476.3,323.8 1477.8,321.4 1479.0,318.0 1479.1,315.4 1480.7,312.7 1480.0,310.0 1481.1,307.3 1482.1,304.9 1484.0,302.0 1484.0,298.8 1485.0,296.1 1486.0,294.0 1487.5,291.4 1489.8,289.3 1492.1,286.0 1494.0,284.0 1496.8,282.3 1498.5,279.9 1500.7,278.6 1502.0,276.0 1507.0,275.6 1507.4,278.0 1509.0,281.0 1512.3,280.7 1515.8,280.0 1518.2,278.4 1522.0,278.0 1524.4,279.7 1528.0,280.0 1529.9,282.2 1532.5,284.6 1534.0,287.0 1533.6,320.0 1534.9,322.9 1538.0,325.0 1538.3,327.9 1539.2,330.9 1540.0,334.0 1542.8,335.3 1546.0,337.8 1548.0,340.0 1548.5,342.7 1549.0,346.0 1545.6,347.7 1544.0,350.0 1541.7,351.3 1539.3,353.0 1536.0,354.0 1533.8,354.9 1531.0,355.8 1528.0,356.0 1524.9,357.0 1522.6,357.5 1520.0,359.0 1517.9,357.5 1516.0,356.0 1514.0,354.0 1513.2,356.9 1510.1,358.5 1509.0,362.0 1506.6,364.1 1504.1,365.3 1502.0,368.0 1499.4,369.4 1496.0,370.0 1493.8,371.5 1490.6,372.1 1489.0,374.0 1486.7,374.1 1484.0,376.0 1482.9,378.8 1480.1,379.5 1479.0,382.0 1477.5,383.5 1475.6,386.5 1474.0,388.0 1471.6,389.9 1470.1,391.2 1469.0,394.0 1468.9,396.5 1467.0,399.0 1468.0,402.0 1471.0,406.0 1468.3,408.1 1466.0,410.0 1466.8,413.6 1469.0,416.0 1472.0,420.0 1474.4,421.7 1476.8,422.6 1479.0,424.0 1482.6,424.2 1485.0,426.0 1486.3,422.9 1488.0,421.0 1484.0,418.0 1486.2,419.6 1489.0,421.0 1488.8,424.5 1487.0,428.0 1483.2,428.8 1480.0,430.0 1477.6,431.2 1474.0,431.0 1471.6,432.3 1469.7,433.7 1467.0,435.0 1464.6,435.6 1461.7,437.4 1458.3,437.2 1456.0,439.0 1453.0,439.3 1450.9,441.4 1447.2,441.2 1445.0,443.0 1442.9,444.1 1439.5,444.9 1437.3,445.8 1433.8,446.4 1432.3,447.9 1429.0,448.4 1426.4,449.7 1423.7,450.0 1420.3,451.0 1418.0,452.5 1415.0,453.1 1411.5,452.8 1408.4,453.7 1405.0,455.0 1402.5,456.6 1400.0,457.0 1399.0,456.7 1401.3,459.6 1402.2,461.8 1404.0,464.8 1404.1,468.2 1402.7,471.9 1402.6,474.9 1401.9,478.1 1400.1,481.6 1399.2,483.9 1397.0,487.0 1396.0,489.7 1392.6,491.3 1391.0,493.9 1389.9,496.0 1386.9,497.8 1384.9,501.1 1381.6,498.7 1379.8,496.0 1378.8,494.0 1376.8,491.9 1374.8,490.0 1373.6,487.9 1372.3,486.0 1371.7,482.9 1370.1,481.1 1369.1,478.5 1368.7,481.5 1370.3,484.9 1370.3,487.6 1372.5,490.5 1373.1,493.0 1373.7,495.9 1376.4,498.0 1376.8,501.1 1378.7,504.4 1379.8,507.1 1380.8,509.6 1379.9,512.2 1381.2,515.2 1380.5,518.2 1379.2,520.0 1378.8,523.3 1378.5,525.7 1375.5,527.4 1374.8,530.4 1372.5,532.8 1371.8,535.1 1369.7,537.4 1367.2,539.3 1366.6,542.6 1364.7,544.5 1363.1,547.5 1360.6,550.5 1358.8,547.0 1359.0,543.5 1360.5,540.9 1361.1,538.8 1361.0,535.4 1362.5,533.0 1365.8,531.6 1366.7,529.3 1366.9,527.0 1367.7,524.3 1364.9,522.4 1362.3,520.3 1361.1,518.1 1358.4,516.3 1356.2,515.2 1355.7,511.7 1354.2,509.2 1355.3,506.7 1355.7,503.8 1357.0,501.1 1357.0,498.7 1355.0,495.6 1355.0,493.0 1355.4,490.9 1356.3,487.9 1358.2,486.0 1360.2,482.5 1357.0,483.9 1354.3,487.0 1351.8,489.0 1349.0,491.4 1348.1,494.0 1349.0,497.1 1349.1,501.1 1350.8,503.5 1350.6,506.6 1352.0,509.2 1351.6,512.8 1350.1,516.2 1350.8,518.8 1351.6,521.4 1352.8,523.3 1353.4,529.3 1351.8,531.9 1350.5,535.4 1351.3,538.6 1353.6,541.5 1352.5,544.3 1351.6,547.5 1353.1,549.6 1355.6,551.5 1357.8,553.0 1359.6,555.6 1363.0,558.0 1364.5,561.2 1364.3,563.9 1365.6,567.4 1366.0,570.0 1366.9,572.7 1367.5,576.3 1367.9,578.9 1370.0,582.0 1370.6,585.3 1371.0,588.0 1367.9,589.8 1367.1,592.6 1364.0,594.0 1362.8,596.3 1359.3,597.4 1358.0,600.0 1356.0,602.2 1354.7,605.0 1354.0,608.0 1352.2,611.2 1349.5,612.5 1348.0,616.0 1345.0,615.0 1342.3,616.1 1340.4,617.9 1338.1,619.3 1335.1,620.5 1332.6,620.8 1330.0,622.5 1328.2,625.1 1325.0,625.8 1323.0,628.2 1320.0,630.0 1316.6,630.7 1314.4,633.2 1310.7,634.0 1307.5,635.0 1305.2,636.4 1302.7,639.4 1300.3,640.6 1297.5,642.5 1295.6,645.2 1294.0,647.0 1292.1,649.0 1290.0,651.0 1287.1,652.8 1286.4,655.0 1283.9,656.5 1282.4,660.0 1280.0,661.0 1277.3,662.6 1274.7,663.9 1272.8,664.8 1270.4,667.1 1267.5,667.5 1264.5,669.4 1262.9,672.0 1260.2,673.3 1257.5,675.0 1257.3,677.5 1255.4,680.4 1255.4,682.8 1253.8,685.0 1252.1,687.7 1252.6,689.9 1249.9,692.6 1250.0,695.0 1249.2,697.1 1247.3,699.6 1246.2,702.3 1246.0,705.0 1245.1,707.7 1245.0,710.9 1245.4,714.7 1245.0,717.5 1244.9,720.4 1246.8,723.5 1246.8,726.8 1247.5,730.0 1249.1,732.5 1249.2,736.5 1251.4,738.8 1250.9,741.7 1252.5,745.0 1252.6,747.7 1254.0,750.9 1254.7,753.6 1256.0,756.7 1256.9,759.7 1257.5,762.5 1258.6,765.4 1260.4,768.3 1260.4,771.2 1261.1,774.9 1262.5,777.5 1263.3,780.1 1264.1,782.9 1265.7,786.0 1266.6,788.9 1266.5,791.6 1267.5,795.0 1268.1,797.7 1269.1,801.4 1270.3,803.6 1271.5,806.9 1272.5,810.0 1272.1,812.8 1272.9,816.6 1273.6,819.4 1275.2,822.4 1275.0,825.0 1274.8,828.3 1273.8,830.3 1273.9,834.0 1275.2,836.3 1273.6,838.9 1273.2,841.9 1273.8,845.0 1272.3,847.6 1271.8,851.7 1271.6,854.3 1270.0,857.5 1267.6,859.0 1265.8,861.2 1262.5,863.0 1260.0,863.8 1257.2,862.9 1254.6,863.5 1252.5,862.5 1250.9,859.3 1251.1,855.9 1250.0,852.5 1248.7,849.8 1246.1,847.7 1243.5,846.1 1242.5,843.8 1241.1,840.8 1239.8,837.8 1237.5,835.0 1237.1,832.0 1234.6,829.9 1233.8,827.8 1232.5,825.0 1231.3,822.6 1229.4,819.8 1226.8,816.9 1225.0,815.0 1223.8,811.7 1222.3,809.4 1220.5,806.3 1220.0,802.5 1219.7,799.5 1219.0,796.1 1217.8,793.9 1218.4,790.9 1217.5,787.5 1217.3,784.1 1218.4,780.8 1220.0,777.5 1218.8,774.4 1219.0,771.5 1218.4,768.1 1217.5,765.0 1214.8,762.6 1213.6,760.6 1211.1,757.9 1210.0,755.0 1208.4,751.8 1206.0,750.3 1203.1,748.0 1202.2,745.0 1200.0,742.5 1197.7,740.1 1195.4,737.3 1191.9,736.1 1190.0,733.8 1187.8,735.6 1185.3,735.7 1182.5,737.5 1180.0,737.5 1178.0,739.9 1174.8,739.7 1172.7,742.8 1170.0,743.8 1166.9,743.3 1164.6,742.3 1161.2,742.5 1159.7,740.3 1157.8,737.6 1157.9,734.6 1155.2,732.6 1155.0,730.0 1152.8,728.0 1150.3,726.5 1147.5,726.0 1145.0,723.8 1142.4,724.1 1138.7,723.6 1135.7,722.6 1133.3,722.3 1130.0,722.5 1127.0,722.9 1123.9,722.9 1120.9,724.5 1118.1,723.5 1115.0,725.0 1112.2,724.7 1108.8,726.0 1107.5,723.6 1107.2,719.8 1106.0,717.5 1105.3,720.1 1104.8,722.9 1105.7,726.4 1105.0,728.8 1102.4,727.2 1099.7,725.7 1097.2,724.9 1095.0,723.8 1091.6,724.2 1088.8,725.4 1086.2,725.8 1083.0,727.3 1080.0,727.5 1077.5,730.0 1074.2,732.4 1071.0,733.0 1073.7,733.3 1077.4,734.7 1079.4,736.0 1082.5,737.5 1082.7,739.9 1080.4,742.5 1080.0,745.0 1078.3,747.5 1077.5,750.0 1080.1,751.7 1081.7,754.4 1082.9,757.3 1085.0,758.8 1082.4,760.3 1080.0,760.0 1078.7,757.1 1076.2,756.6 1075.0,753.8 1072.3,753.8 1069.1,751.3 1066.2,751.2 1063.8,753.8 1062.0,755.9 1060.0,758.8 1057.4,759.8 1054.0,758.8 1050.7,760.0 1047.5,760.0 1044.6,758.8 1042.1,756.0 1040.0,753.8 1038.1,752.2 1036.9,749.3 1034.8,747.5 1032.5,746.2 1029.6,745.4 1027.2,742.9 1025.0,741.2 1022.5,743.3 1020.2,744.4 1017.5,746.2 1014.7,745.2 1011.2,744.8 1007.5,745.0 1004.4,745.1 1000.9,742.5 997.8,743.1 995.0,741.2 985.0,741.2 982.2,742.3 980.2,743.7 977.3,744.5 975.0,745.0 971.8,745.8 969.7,746.0 966.5,745.5 963.8,746.2 962.2,749.4 960.0,752.0 957.5,753.8 955.1,755.9 953.6,757.8 952.1,760.4 950.0,762.5 947.5,762.9 945.1,764.1 943.0,766.7 939.6,766.8 937.5,768.8 934.7,770.0 932.7,771.1 929.7,771.6 927.5,772.5 924.6,773.8 922.8,776.0 920.0,777.5 918.8,780.4 916.5,781.9 915.9,784.4 913.8,786.2 911.2,788.0 910.1,790.9 907.5,792.5 907.5,800.0 905.1,800.9 903.9,803.7 901.2,805.0 904.5,806.8 907.5,807.5 907.8,810.6 907.2,814.1 906.2,817.5 907.0,820.3 908.4,823.4 908.2,827.4 910.0,830.0 911.8,833.3 912.6,835.9 912.0,839.9 913.8,842.5 905.0,842.5 901.8,841.5 898.1,842.1 895.0,841.0 892.4,840.6 890.3,839.0 887.2,837.5 885.2,835.9 882.5,835.0 880.2,832.9 877.0,831.8 874.7,829.4 872.5,827.5 872.0,824.7 869.9,822.2 868.6,820.3 867.5,817.0 866.0,815.0 866.2,811.4 866.0,808.1 865.0,805.0 863.6,801.9 861.3,799.1 860.0,796.0 857.5,793.8 856.6,790.0 854.7,787.8 852.5,785.0 850.9,782.6 849.8,780.0 848.1,777.0 845.9,775.2 845.0,772.5 844.3,769.9 842.3,767.1 840.4,765.4 839.3,762.6 839.5,759.6 837.5,757.5 835.0,756.1 833.7,753.5 831.8,751.8 830.0,750.0 827.9,747.4 824.5,745.7 822.5,743.8 818.9,743.9 815.5,743.1 812.5,742.5 808.6,742.8 806.2,742.0 802.5,741.2 799.7,743.5 796.2,745.0 796.3,747.8 794.5,750.2 793.8,752.4 792.5,755.0 791.2,758.4 788.4,760.4 787.5,763.8 784.5,762.9 782.7,761.6 780.0,760.0 776.9,758.8 775.2,756.1 772.5,755.0 769.9,753.1 766.8,751.4 764.7,749.5 762.5,747.5 760.7,744.3 758.4,742.7 756.2,740.0 755.8,737.5 755.7,734.4 755.1,731.6 753.8,728.8 752.1,726.9 750.7,724.7 748.1,722.6 747.5,720.0 744.9,718.6 742.3,716.6 739.8,714.4 737.5,712.5 735.9,710.5 734.1,707.9 731.0,707.3 730.0,705.0 728.5,702.4 725.5,701.5 724.9,699.5 722.5,697.5 719.3,695.7 718.5,693.1 715.6,691.8 713.8,688.8 682.5,688.8 682.5,700.8 662.5,700.8 621.2,700.8 542.5,670.0 542.5,665.0 495.0,669.5 495.0,668.8 492.4,665.7 491.0,662.5 490.0,659.6 490.2,655.4 488.8,652.5 485.8,650.1 484.4,647.1 482.2,644.5 480.0,642.5 477.2,640.2 473.9,639.7 471.4,637.5 468.8,636.0 466.5,633.3 465.0,631.0 462.3,630.2 459.2,630.2 456.4,629.0 453.3,628.3 450.0,627.5 447.5,626.3 444.7,624.8 441.8,624.5 439.9,622.5 437.3,620.8 435.0,620.3 432.5,618.8 430.0,617.1 426.2,616.6 422.7,616.8 420.0,615.0 419.2,611.5 417.5,608.7 417.0,606.0 416.9,603.2 415.0,600.0 414.1,597.2 412.0,594.8 411.0,592.6 410.0,590.0 408.7,587.2 407.5,585.0 405.2,582.9 403.6,580.0 402.5,577.3 400.0,575.0 399.4,572.3 397.6,570.2 396.0,567.1 395.1,564.6 393.8,562.5 393.0,559.4 392.5,555.8 392.5,552.5 390.3,550.2 387.4,549.3 386.4,546.3 383.8,545.0 382.0,543.0 381.1,540.6 381.7,537.1 380.0,535.0 379.2,531.1 378.0,528.0 376.4,525.2 373.8,523.8 372.0,520.4 370.0,517.5 368.7,515.0 367.3,513.1 365.6,510.8 363.8,508.8 362.8,506.6 360.4,505.1 359.3,501.5 357.5,500.0 356.9,497.5 356.1,494.5 354.9,492.7 353.8,490.0 352.7,487.0 352.0,483.9 351.9,480.1 351.0,477.5 348.7,475.4 347.4,473.3 347.0,469.6 345.0,467.5 344.8,464.7 342.1,463.0 342.0,459.5 341.0,457.5 342.8,454.4 342.6,451.2 343.8,447.5 344.7,444.5 344.5,441.2 346.0,437.5 344.7,434.1 344.5,430.4 345.0,427.5 343.3,424.9 342.8,423.2 342.5,420.0 342.2,417.6 341.0,415.0 341.2,411.9 339.4,408.2 340.0,405.0 339.5,402.0 338.9,400.2 337.5,397.5 338.5,394.9 338.9,392.1 339.5,390.0 339.7,386.4 341.0,384.6 340.4,380.7 342.4,378.5 342.5,375.0 342.7,371.7 342.9,368.5 343.9,366.4 344.3,362.9 345.0,360.0 345.3,356.8 345.1,353.6 345.9,350.8 346.8,348.1 347.0,345.0 347.3,341.6 348.9,338.6 348.6,335.9 349.0,332.5 349.5,320.0 350.0,310.0 351.0,307.0 350.0,302.5 348.7,299.3 349.7,296.5 349.0,294.0 350.5,291.5 352.5,289.5 348.0,289.0 347.2,285.0 345.0,282.5 344.4,279.8 343.1,276.5 342.5,274.0 340.5,271.3 339.1,268.2 337.5,266.0 337.2,263.2 334.6,260.9 334.5,257.5 333.6,254.2 333.0,251.0 336.2,252.5 339.5,251.7 342.2,253.9 345.0,254.0 347.9,255.1 351.3,256.8 354.7,257.5 357.5,258.0 367.5,257.5 374.0,257.0 374.0,245.0 374.0,242.2 374.8,238.4" stroke-width="4.2"/>
<polygon points="1400.0,457.0 1408.0,455.0 1420.0,456.0 1436.0,450.5 1448.0,446.3 1448.0,443.5 1432.0,446.0 1416.0,450.5 1404.0,453.0" stroke-width="3.2"/>
<polyline points="351.0,307.0 353.3,306.3 355.4,308.5 357.5,308.0 359.8,309.2 362.4,309.9 365.2,308.3 368.2,308.8 370.0,310.5 369.7,313.0 372.6,314.7 373.7,316.2 374.0,319.0 375.8,321.0 376.0,324.0 379.0,325.1 382.0,324.6 384.0,326.0 387.2,325.3 389.4,325.5 392.0,324.3 395.0,323.0 407.5,322.5 409.7,320.7 412.7,322.7 415.2,320.6 417.4,322.6 420.0,321.0 422.6,320.2 424.9,321.1 428.0,319.2 430.3,318.9 432.5,318.0 435.1,318.4 437.5,316.6 439.9,316.9 442.5,317.5 445.0,316.0 447.8,315.7 450.5,316.4 452.3,315.7 455.5,316.0 457.8,315.4 460.0,314.5 475.0,314.0 495.0,313.8 499.0,313.8" stroke-width="4.6"/>
<polyline points="496.2,235.5 496.2,313.8"/>
<polyline points="499.0,314.0 501.8,314.9 503.8,316.7 505.0,319.0 505.2,321.9 506.0,325.0 504.5,327.4 504.9,330.6 502.5,332.5 501.0,334.9 499.0,337.2 499.0,340.0 498.1,342.4 497.2,345.8 495.0,347.5 493.1,349.8 492.5,352.6 491.0,355.0 492.6,357.3 492.5,360.0 495.6,360.4 497.5,362.5 496.8,365.1 497.6,367.2 496.5,370.0 496.5,420.0" stroke-width="4.6"/>
<polyline points="342.5,420.0 622.5,420.0"/>
<polyline points="516.0,235.5 516.0,262.5 516.3,266.0 517.9,267.6 520.0,270.0 522.2,271.8 522.3,274.2 525.0,276.0 528.0,277.3 529.9,278.9 531.4,281.1 532.3,284.1 535.0,285.0 537.0,286.5 538.6,289.1 540.8,290.4 542.5,292.5 544.4,293.4 547.2,293.4 549.4,294.1 551.0,296.0 551.3,298.8 553.6,299.9 554.0,302.5 551.9,304.4 550.7,306.7 550.2,309.2 550.0,312.5 549.2,315.3 549.3,317.6 548.0,320.4 549.0,322.5 552.1,323.5 554.0,326.0 555.2,323.7 557.2,322.9 560.0,322.5 561.0,324.8 563.6,326.5 563.6,330.3 566.0,332.5 568.4,333.9 568.1,337.0 569.8,338.6 570.5,340.7 572.5,342.5 573.8,345.2 575.8,347.3 577.4,348.9 580.0,350.0 581.3,353.2 582.5,356.0 584.7,355.2 587.8,354.9 590.0,352.5 592.4,352.2 595.0,350.8 597.8,352.1 599.8,352.0 603.0,351.6 605.4,351.6 607.5,351.0 609.0,348.4 611.0,347.9 613.3,347.0 616.0,346.0 618.2,347.3 619.2,349.7 620.0,352.5 621.2,352.5" stroke-width="4.6"/>
<polyline points="621.2,341.0 621.2,420.0 622.0,446.3"/>
<polyline points="621.2,341.0 769.2,341.0"/>
<polyline points="622.0,446.3 811.0,446.3"/>
<polyline points="769.2,235.5 769.2,341.0"/>
<polyline points="769.0,341.0 769.0,446.3"/>
<polyline points="769.2,316.9 926.2,316.9"/>
<polyline points="769.0,393.0 886.2,393.0 887.7,395.1 889.9,397.0 893.1,397.1 895.0,398.8 897.1,397.5 899.7,398.0 902.5,398.5 904.7,397.4 907.5,397.5 910.4,397.4 912.1,399.9 914.6,400.2 917.5,400.0 919.1,401.6 921.7,402.0 923.9,403.9 926.2,403.8" stroke-width="4.6"/>
<polyline points="913.8,235.5 914.0,238.1 913.8,240.6 913.2,243.1 915.6,244.8 914.9,247.5 915.0,250.0 914.3,253.1 916.3,254.8 917.7,257.4 916.2,260.0 918.2,262.3 918.8,265.0 918.8,267.3 920.9,270.0 920.6,272.5 919.2,275.3 919.7,278.0 921.2,280.0 922.9,282.0 921.6,285.1 924.0,287.6 922.5,290.0 923.2,292.2 923.8,295.0 923.8,297.2 923.7,300.5 925.2,302.2 924.4,305.4 925.8,307.3 925.0,310.0 925.2,312.9 926.2,316.2 926.0,319.2 923.4,320.3 922.5,322.5 923.4,324.7 925.0,327.5 926.2,330.0 927.3,332.2 929.9,334.4 930.0,337.5 930.5,380.0 926.2,382.5 926.3,385.3 926.2,387.7 928.4,389.8 928.8,392.5 928.4,395.2 927.1,397.0 927.6,400.2 927.5,402.5 926.2,403.8 926.4,406.2 929.1,407.7 928.6,411.0 930.3,412.5 930.6,414.7 931.2,417.5 930.7,420.3 933.2,422.9 932.9,425.1 933.4,428.2 935.2,430.0 936.2,432.5 936.8,435.8 938.8,437.5 938.7,439.9 938.7,442.9 939.0,445.6 940.3,448.0 941.2,450.0 942.7,452.7 943.1,455.5 945.0,457.9 947.4,459.7 947.4,462.1 948.6,464.0 950.0,466.2 950.7,468.8 954.0,470.0 955.0,472.5 957.0,474.0 959.9,474.8 961.2,477.5 960.2,479.8 958.5,481.2 957.5,483.8 960.2,484.6 961.9,488.3 963.8,490.0 964.9,492.5 967.2,492.4 968.0,495.0 968.0,552.5 968.8,565.0 968.4,567.5 969.7,570.3 971.0,572.8 970.9,575.0 969.9,577.6 970.0,579.9 971.8,582.6 971.2,585.0 970.0,587.1 972.8,590.4 973.0,592.0 971.9,594.8 971.4,597.5 971.3,599.7 973.2,602.1 972.5,605.0 972.5,641.0" stroke-width="4.6"/>
<polyline points="930.5,380.0 1038.8,380.0"/>
<polyline points="945.0,457.9 1032.5,457.9 1036.0,461.0"/>
<polyline points="811.0,472.4 955.0,472.4"/>
<polyline points="811.0,446.3 811.0,552.5"/>
<polyline points="558.1,552.5 968.0,552.5"/>
<polyline points="664.0,446.3 664.0,700.8"/>
<polyline points="558.1,420.0 558.1,552.5 556.6,554.5 556.7,557.4 555.9,559.9 557.3,562.1 557.0,565.5 555.1,567.1 555.4,569.6 556.0,572.5 553.8,576.0 551.3,575.4 548.6,576.1 546.0,575.0 544.5,577.5 545.1,579.8 543.8,582.5 545.5,585.3 544.2,587.5 544.7,589.6 545.6,592.9 545.0,595.0 545.5,603.8 547.0,605.8 546.6,608.8 549.5,609.5 550.0,612.5 551.9,613.6 553.1,615.7 554.2,618.2 555.2,620.2 556.2,622.5 554.8,624.4 552.2,625.7 551.3,628.5 550.0,631.0 549.4,632.7 547.2,635.5 549.6,637.9 547.5,640.0 545.3,642.3 545.3,645.2 545.7,648.1 543.8,650.0 545.8,651.9 545.0,655.5 547.5,657.5 546.0,660.1 545.0,662.9 543.8,665.0" stroke-width="4.6"/>
<polyline points="433.8,420.0 433.8,497.5 545.5,603.8"/>
<polyline points="790.3,552.5 790.3,684.9"/>
<polyline points="713.8,688.8 713.8,684.9 790.3,684.9"/>
<polyline points="790.3,565.7 854.4,565.7 854.4,615.0 856.8,614.9 858.3,617.1 859.4,619.5 862.5,620.0 864.8,620.9 866.8,622.6 870.0,622.5 872.6,623.7 875.0,624.9 877.5,627.5 879.6,627.6 882.0,628.4 885.0,627.9 887.5,628.8 888.5,630.8 892.3,630.5 894.6,631.5 895.2,633.8 897.5,635.0 900.4,635.7 902.7,633.9 905.0,633.2 907.5,633.8 910.3,634.9 912.6,635.1 914.7,637.3 917.5,637.5 930.0,637.5 932.8,637.2 935.5,636.4 937.6,635.2 939.4,634.3 942.5,633.8 944.8,634.2 948.0,634.0 949.7,633.3 952.5,632.5 955.1,633.2 958.0,633.7 960.0,636.0 962.3,637.1 965.0,637.0 966.9,639.2 970.0,640.0 972.5,641.0 980.0,641.0 980.0,685.0 982.1,687.0 983.8,690.0 984.7,692.7 984.5,695.6 985.3,698.5 987.5,700.0 987.4,702.3 988.1,704.7 987.0,707.6 988.8,710.0 987.8,712.0 989.4,714.8 988.7,717.4 988.4,720.0 987.5,722.5 987.4,724.6 988.1,727.6 987.6,730.1 986.0,732.5 986.9,735.6 986.2,738.6 984.5,741.0" stroke-width="4.6"/>
<polyline points="980.0,657.0 1040.0,657.0"/>
<polyline points="968.8,565.2 1060.0,565.2 1060.1,567.9 1062.5,570.0 1060.2,571.8 1058.7,574.5 1057.5,577.5 1068.8,578.0"/>
<polyline points="1016.8,296.5 1016.0,312.5 1013.7,313.6 1011.7,315.2 1009.7,316.3 1007.5,317.5 1006.7,320.3 1003.8,322.5 1005.1,324.9 1007.5,327.5 1006.6,330.0 1007.1,332.8 1006.7,335.0 1006.0,337.5 1004.8,339.9 1005.4,342.0 1005.0,345.0 1006.3,346.8 1009.1,347.7 1010.0,350.0 1012.4,351.1 1014.9,352.7 1017.8,354.4 1020.0,356.0 1023.2,357.0 1023.8,360.0 1026.8,360.7 1029.0,362.1 1030.0,365.0 1032.5,366.9 1034.6,367.9 1035.8,371.1 1037.5,372.5 1038.0,374.9 1038.3,377.8 1038.8,380.0 1039.4,382.2 1040.7,384.3 1042.5,386.0 1041.1,387.9 1041.9,390.4 1040.0,392.5 1039.4,395.0 1041.5,397.8 1042.5,400.0 1045.4,401.6 1047.8,403.6 1050.0,405.0 1050.9,407.1 1053.2,408.4 1055.5,410.2 1057.5,411.0 1058.0,413.8 1059.4,415.3 1059.1,418.4 1061.0,420.0 1059.7,422.5 1058.8,424.6 1059.1,426.7 1057.5,428.8 1054.6,430.2 1051.8,430.0 1049.6,432.1 1047.2,433.8 1045.0,435.0 1044.4,437.6 1042.2,440.0 1042.5,442.5 1043.1,445.1 1041.6,447.7 1042.0,450.2 1041.2,452.5 1038.4,453.7 1039.4,456.7 1037.6,458.4 1035.0,460.0 1035.7,463.3 1032.7,465.4 1033.8,468.8 1035.9,470.9 1035.1,473.5 1037.0,474.9 1037.5,477.5 1038.5,480.3 1041.1,480.7 1042.4,482.6 1042.7,486.1 1045.0,487.5 1046.5,490.2 1048.5,491.9 1050.6,493.4 1051.2,496.2 1054.3,497.4 1054.8,499.9 1057.5,501.2 1059.5,503.2 1062.5,505.0 1062.4,507.8 1062.3,510.3 1060.0,512.5 1059.3,514.1 1057.6,516.0 1057.5,518.8 1058.3,521.4 1060.8,522.0 1063.8,522.3 1065.0,525.0 1067.5,526.4 1069.3,528.4 1071.4,529.6 1072.5,532.5 1074.6,534.8 1075.2,537.0 1077.5,538.8 1077.5,541.6 1079.4,543.7 1078.8,546.2 1081.0,547.8 1082.5,550.0 1082.9,552.9 1081.8,555.3 1080.0,557.5 1078.5,559.0 1076.9,561.3 1075.0,562.5 1073.6,565.0 1074.3,567.9 1073.8,570.0 1073.5,572.6 1072.5,575.0 1070.0,576.2 1070.4,578.8 1068.1,580.2 1068.6,583.2 1067.5,585.0 1066.7,587.2 1064.7,590.0 1065.0,592.5 1063.3,595.0 1062.9,596.8 1064.4,600.4 1062.5,602.5 1061.2,604.7 1060.6,607.2 1057.5,608.8 1056.2,611.0 1054.1,613.6 1051.5,614.8 1050.0,617.5 1047.9,619.4 1045.8,621.5 1045.0,625.0 1043.5,627.3 1042.5,628.5 1042.4,631.8 1042.5,633.8 1040.8,636.2 1041.2,638.7 1040.3,641.7 1040.0,643.8 1040.0,646.6 1041.5,647.7 1041.3,650.9 1042.5,652.5 1042.6,655.3 1040.9,657.4 1041.0,660.0 1043.2,661.7 1044.1,664.1 1045.2,667.5 1045.0,670.0 1043.7,672.7 1043.6,674.7 1042.5,677.5 1039.9,679.4 1039.9,682.4 1038.8,685.0 1038.5,687.4 1037.4,689.9 1037.2,693.0 1035.0,695.0 1033.2,697.6 1032.3,699.5 1031.8,702.3 1031.0,705.0 1031.0,711.0 1071.0,711.0 1071.0,720.0 1071.8,722.2 1073.5,724.3 1073.7,726.2 1075.0,728.8 1076.0,732.5" stroke-width="4.6"/>
<polyline points="1046.2,299.3 1049.0,298.8 1050.4,300.8 1054.0,300.3 1055.3,301.9 1058.0,303.6 1060.0,303.8 1063.1,304.3 1065.6,305.2 1066.9,306.9 1069.2,308.4 1073.0,307.1 1074.1,310.3 1077.5,310.0 1079.9,312.1 1082.2,312.0 1084.9,311.7 1087.3,312.8 1090.2,312.4 1093.1,313.1 1095.0,315.0 1097.6,315.0 1100.3,316.8 1102.5,318.9 1105.0,318.8 1107.4,320.6 1107.4,323.8 1110.0,325.0 1109.2,328.4 1111.0,331.0 1112.8,332.5 1112.7,335.5 1115.0,337.5" stroke-width="4.6"/>
<polyline points="1050.0,407.3 1111.2,407.3"/>
<polyline points="1135.0,426.6 1202.5,426.6"/>
<polyline points="1117.0,427.0 1117.0,485.0 1116.5,487.3 1115.2,490.2 1115.2,491.9 1115.0,495.0 1116.5,497.1 1115.4,500.6 1117.5,502.5 1116.5,505.1 1116.9,508.0 1115.0,510.0 1113.3,511.4 1112.3,514.0 1109.3,514.6 1108.8,517.5 1109.4,520.6 1106.5,522.1 1106.1,525.3 1106.2,527.5" stroke-width="4.6"/>
<polyline points="1174.3,426.6 1174.6,496.2"/>
<polyline points="1082.5,550.0 1084.1,548.0 1086.2,546.2 1089.7,547.0 1092.3,544.8 1095.0,545.0 1097.6,542.8 1097.5,540.0 1099.8,537.3 1102.4,536.7 1105.0,536.2 1104.5,533.1 1105.6,530.2 1106.2,527.5 1109.6,527.8 1112.6,527.6 1115.0,526.2 1117.4,527.4 1119.8,528.8 1122.5,528.8 1125.2,528.8 1128.3,528.3 1130.0,526.2 1133.0,526.1 1135.0,527.5 1137.3,525.4 1139.9,523.8 1141.2,521.2 1143.9,523.1 1146.3,522.6 1148.8,525.0 1150.3,522.6 1151.8,520.4 1155.0,518.8 1156.9,516.8 1158.9,516.0 1160.0,513.8 1162.3,511.7 1162.5,508.8 1164.7,508.3 1167.2,506.6 1170.0,506.2 1171.8,503.9 1175.0,503.8 1175.6,501.7 1175.2,498.4 1176.2,496.2 1178.7,497.3 1180.9,497.7 1182.6,500.9 1185.0,501.2 1188.1,501.5 1189.9,504.6 1192.4,505.8 1195.0,506.2 1197.7,506.2 1200.1,506.2 1202.8,508.0 1205.0,507.5 1207.6,507.5 1209.4,505.0 1211.8,505.2 1213.8,505.0 1216.8,506.2 1218.3,509.5 1220.0,511.2 1222.3,512.6 1225.0,512.5 1227.2,510.4 1229.3,508.5 1230.0,505.0 1232.9,503.4 1233.0,500.3 1235.0,498.8 1237.7,497.8 1239.6,496.6 1240.9,493.7 1242.5,492.5 1244.5,490.9 1246.6,490.4 1247.8,487.2 1250.0,486.2 1252.5,484.0 1255.4,482.7 1257.5,481.2 1258.3,479.0 1259.7,476.8 1260.9,474.1 1261.2,471.2 1260.9,468.8 1261.7,465.5 1262.7,462.7 1262.1,460.0 1262.5,457.5 1264.1,456.1 1266.2,453.8" stroke-width="4.6"/>
<polyline points="1265.0,420.0 1265.0,478.9 1366.0,478.9"/>
<polyline points="1280.0,413.0 1280.0,420.0 1375.0,420.0 1376.3,421.7 1376.8,425.2 1378.8,426.7 1381.9,427.4 1382.0,430.0 1384.3,431.2 1384.6,433.8 1386.0,436.0 1387.5,438.0 1387.0,440.8 1383.9,442.2 1382.0,443.4 1379.6,445.4 1379.0,448.0 1378.1,450.4 1377.2,453.6 1378.0,456.0 1380.4,457.5 1381.5,460.4 1383.8,461.3 1386.9,461.8 1388.0,464.0 1386.1,465.6 1384.3,467.7 1384.0,470.0 1381.0,470.6 1379.9,473.0 1378.9,475.5 1376.0,476.0 1374.3,477.4 1371.6,478.7 1369.8,479.4 1367.0,479.0" stroke-width="4.6"/>
<polyline points="1387.5,438.0 1389.0,440.3 1390.9,441.9 1391.9,444.0 1395.2,445.0 1397.3,446.7 1398.7,449.1 1400.0,451.0"/>
<polyline points="1225.0,512.5 1223.5,514.9 1222.6,517.8 1221.2,520.0 1222.5,521.6 1223.2,523.8 1223.8,527.0 1227.2,527.0 1227.5,530.0 1227.7,533.0 1229.6,534.1 1230.6,536.7 1233.7,537.5 1233.8,540.0 1236.5,541.8 1239.1,543.4 1240.0,546.2"/>
<polyline points="1240.0,546.2 1238.2,548.6 1234.6,547.3 1232.4,550.5 1230.0,551.2 1227.0,551.4 1224.1,552.7 1222.8,554.8 1220.0,556.2 1217.5,557.2 1215.9,559.0 1212.4,557.0 1210.0,558.0 1207.5,560.0 1204.5,559.6 1202.0,559.5 1200.0,561.2"/>
<polyline points="1073.8,565.0 1106.2,565.0 1106.2,560.5 1200.0,561.2 1240.0,562.0 1363.0,563.0"/>
<polyline points="1240.0,546.2 1242.5,544.4 1245.4,545.7 1247.8,546.6 1250.0,545.0 1252.7,545.1 1255.4,543.7 1257.5,543.9 1260.0,542.5 1262.5,542.2 1264.9,540.1 1265.4,537.6 1267.6,536.0 1270.0,535.0 1271.1,533.1 1273.3,530.3 1275.4,529.8 1277.5,527.5 1277.6,524.7 1281.4,522.7 1279.9,519.4 1282.5,517.5 1284.0,515.7 1284.3,513.0 1285.0,510.0 1287.7,509.9 1290.0,509.9 1292.5,508.8 1294.0,506.4 1295.3,504.2 1297.5,502.5 1299.4,501.4 1301.6,499.4 1302.5,497.5 1303.9,495.3 1306.3,494.3 1309.0,492.8 1310.0,490.0 1314.0,488.0 1316.9,488.4 1318.5,487.1 1321.0,486.0" stroke-width="4.6"/>
<polyline points="1288.8,478.8 1288.8,488.8 1291.0,488.4 1292.8,485.6 1294.8,483.7 1297.5,483.8 1299.3,481.8 1303.0,483.0 1305.4,481.4 1307.5,481.2 1309.5,482.8 1313.0,481.2 1315.0,482.5 1317.1,484.4 1319.7,483.7 1321.0,486.0 1322.9,488.1 1323.9,491.2 1326.0,493.0 1329.0,494.1 1329.9,496.9 1332.0,498.0 1334.5,500.3 1337.0,502.0 1334.6,504.9 1335.0,508.0 1333.7,510.3 1332.0,513.0 1334.7,514.2 1337.0,517.0 1339.1,518.8 1342.0,521.0 1343.4,522.4 1344.5,525.0 1347.0,526.0 1351.0,529.0" stroke-width="4.6"/>
<polyline points="1367.0,479.0 1367.0,511.0 1380.0,511.0"/>
<polyline points="1363.0,531.0 1365.7,531.7 1368.2,531.8 1371.2,531.8 1373.1,531.8 1376.0,533.0"/>
<polyline points="1062.5,604.7 1206.0,604.7"/>
<polyline points="1105.0,604.7 1096.2,687.5 1100.0,726.0"/>
<polyline points="1158.8,604.7 1167.5,662.5 1167.4,665.6 1167.8,667.4 1171.3,669.4 1170.1,673.0 1170.6,675.8 1172.5,677.5 1171.8,680.0 1172.0,683.2 1171.6,685.2 1169.6,687.7 1168.8,690.0 1168.8,707.5 1170.3,709.7 1171.4,712.0 1171.4,714.6 1172.5,717.5 1230.0,721.0 1229.2,723.7 1229.2,725.6 1231.0,727.5 1230.7,724.9 1232.4,722.6 1232.7,720.2 1233.8,717.8 1233.8,715.0 1236.1,716.1 1239.2,715.6 1242.4,716.1 1245.0,717.5" stroke-width="4.6"/>
<polyline points="1121.0,725.0 1119.4,722.6 1120.0,720.0 1119.9,717.6 1118.0,714.6 1116.7,713.1 1116.0,710.0 1168.8,710.0"/>
<polyline points="1186.0,604.7 1187.8,603.2 1190.5,601.8 1191.4,598.7 1193.9,597.2 1195.0,595.0 1197.8,594.8 1200.7,593.3 1202.1,591.3 1205.0,590.0 1206.7,588.4 1208.8,586.5 1210.3,584.9 1212.4,582.8 1215.0,582.5 1218.2,581.8 1219.8,580.1 1222.4,577.9 1225.0,577.5 1226.7,575.1 1229.4,575.2 1231.4,573.6 1232.5,570.9 1235.0,570.0 1235.3,567.9 1236.7,565.4 1237.7,563.2 1240.0,562.0" stroke-width="4.6"/>
<polyline points="1206.0,611.0 1208.1,612.7 1208.3,615.3 1211.4,617.1 1213.4,617.5 1215.0,620.0 1216.0,621.7 1218.3,624.1 1218.4,626.7 1220.2,628.1 1222.4,629.5 1222.5,632.5 1223.4,634.4 1225.4,637.2 1227.3,638.4 1229.5,640.4 1229.7,642.8 1232.5,643.8 1234.9,645.9 1236.3,647.4 1238.7,650.1 1240.3,651.7 1242.5,653.8 1243.5,656.4 1246.2,658.0 1246.8,661.2 1247.8,663.0 1250.0,665.0 1251.0,667.9 1250.1,670.2 1252.3,672.2 1251.6,675.2 1253.8,677.5 1255.0,679.4 1255.0,682.5" stroke-width="4.6"/>
<polyline points="1206.0,604.7 1206.0,611.0 1207.1,608.2 1209.3,606.5 1212.5,605.0 1215.4,604.8 1217.0,602.9 1220.1,603.0 1222.0,600.0 1225.0,600.0 1252.5,600.0 1255.1,601.4 1256.6,604.7 1258.4,606.5 1260.0,608.8 1262.3,607.8 1265.5,608.6 1267.2,608.2 1270.0,608.9 1272.2,609.6 1274.8,610.1 1277.4,610.0 1279.7,609.2 1282.5,610.0 1307.5,633.8" stroke-width="4.6"/>
<polyline points="1415.0,341.0 1415.0,354.0 1413.8,357.0 1415.6,359.2 1414.6,361.7 1415.5,365.0 1414.7,367.6 1414.0,370.0 1413.2,372.7 1414.2,374.7 1414.5,377.3 1416.0,380.0 1415.3,382.8 1415.3,385.7 1416.9,387.8 1418.5,391.0 1417.2,393.3 1418.4,396.3 1418.0,399.0 1417.3,401.8 1416.3,404.8 1417.0,408.0 1415.0,410.0 1414.0,412.9 1415.1,414.7 1414.2,417.3 1413.0,420.0 1410.0,447.0" stroke-width="4.6"/>
<polyline points="1455.0,340.0 1453.8,343.2 1454.0,346.0 1451.7,347.5 1452.6,350.8 1451.0,352.0 1448.4,353.9 1448.0,357.0 1445.5,358.6 1443.0,360.0 1442.6,362.8 1441.3,365.0 1441.3,367.5 1441.0,370.0 1440.7,373.0 1439.0,376.1 1437.0,378.0 1437.5,380.6 1436.5,383.0 1436.1,385.9 1435.0,388.0 1435.4,391.1 1432.5,393.4 1434.4,396.0 1433.0,399.0" stroke-width="4.6"/>
<polyline points="1465.0,331.0 1467.0,388.0 1466.1,391.1 1468.0,394.0"/>
<polyline points="1418.0,399.0 1462.0,399.0 1465.1,399.5 1468.0,397.0"/>
<polyline points="1413.0,420.0 1459.0,419.0 1460.6,421.9 1460.8,424.6 1461.0,427.0 1461.7,428.8 1462.6,431.9 1463.0,434.0"/>
<polyline points="1451.0,419.5 1451.0,438.0"/>
<polyline points="368.1,246.2 373.8,242.9 380.6,242.6 382.4,251.9 386.0,260.9 382.8,270.7 383.1,278.8 373.8,285.6 368.8,281.0 372.4,272.5 377.7,272.0 379.2,263.6 376.0,262.3 373.1,255.5 377.0,251.9 375.6,247.4" stroke-width="3.2" fill="#000"/>
<polyline points="349.0,287.0 351.5,291.0 350.0,296.0 351.0,303.0 352.0,307.0" stroke-width="4.6"/>
<polyline points="379.0,521.0 384.0,526.0 383.0,532.0 388.0,538.0" stroke-width="5.5"/>
<polyline points="1106.5,352.0 1127.0,333.0" stroke-width="4.5"/>
<polyline points="1159.0,343.0 1161.0,336.0" stroke-width="5"/>
<polyline points="1213.0,431.5 1217.0,433.0" stroke-width="5"/>
<polyline points="1219.5,790.0 1222.0,795.0" stroke-width="8"/>
<polyline points="1228.5,817.0 1230.5,820.0" stroke-width="5.5"/>
<polyline points="901.2,804.9 904.2,797.8 906.9,792.4 913.2,784.3 922.2,776.8 933.8,769.6" stroke-width="3.6"/>
<polyline points="959.8,752.4 960.7,743.4 966.5,742.3" stroke-width="5.0"/>
<polyline points="1059.4,730.5 1064.8,735.0 1072.8,735.9 1079.1,733.2" stroke-width="4.5"/>
<polyline points="959.0,752.0 964.0,745.0" stroke-width="5.5"/>
<polyline points="922.0,777.0 932.0,772.0" stroke-width="5"/>
<polyline points="1347.0,568.0 1354.0,570.0 1352.0,576.0 1360.0,578.0 1356.0,584.0 1362.0,588.0" stroke-width="4.5"/>
<polyline points="1342.0,586.0 1350.0,590.0 1346.0,596.0 1354.0,598.0" stroke-width="4.5"/>
<polyline points="1336.0,600.0 1344.0,602.0 1340.0,608.0 1348.0,610.0" stroke-width="4.5"/>
<polyline points="1332.0,612.0 1340.0,614.0" stroke-width="4.5"/>
<polyline points="1345.0,566.0 1345.0,574.0 1352.0,572.0" stroke-width="4"/>
<polyline points="1339.4,522.3 1350.5,534.4" stroke-width="4.2"/>
<polyline points="1340.5,533.4 1352.6,544.5" stroke-width="4.2"/>
<polyline points="1339.4,543.5 1350.5,551.5" stroke-width="4.2"/>
<polyline points="1333.4,513.2 1338.4,519.3 1346.5,524.9 1351.6,528.9" stroke-width="4.5"/>
<polyline points="1475.0,436.0 1478.0,437.0" stroke-width="4.5"/>
<polyline points="1485.0,439.0 1488.0,439.5" stroke-width="4.5"/>
<polyline points="1106.0,717.0 1105.5,727.0" stroke-width="4"/>
<polyline points="1058.0,733.0 1066.0,728.0 1072.0,731.0 1066.0,736.0 1058.0,733.0" stroke-width="3.5"/>
</g></svg></body></html>
